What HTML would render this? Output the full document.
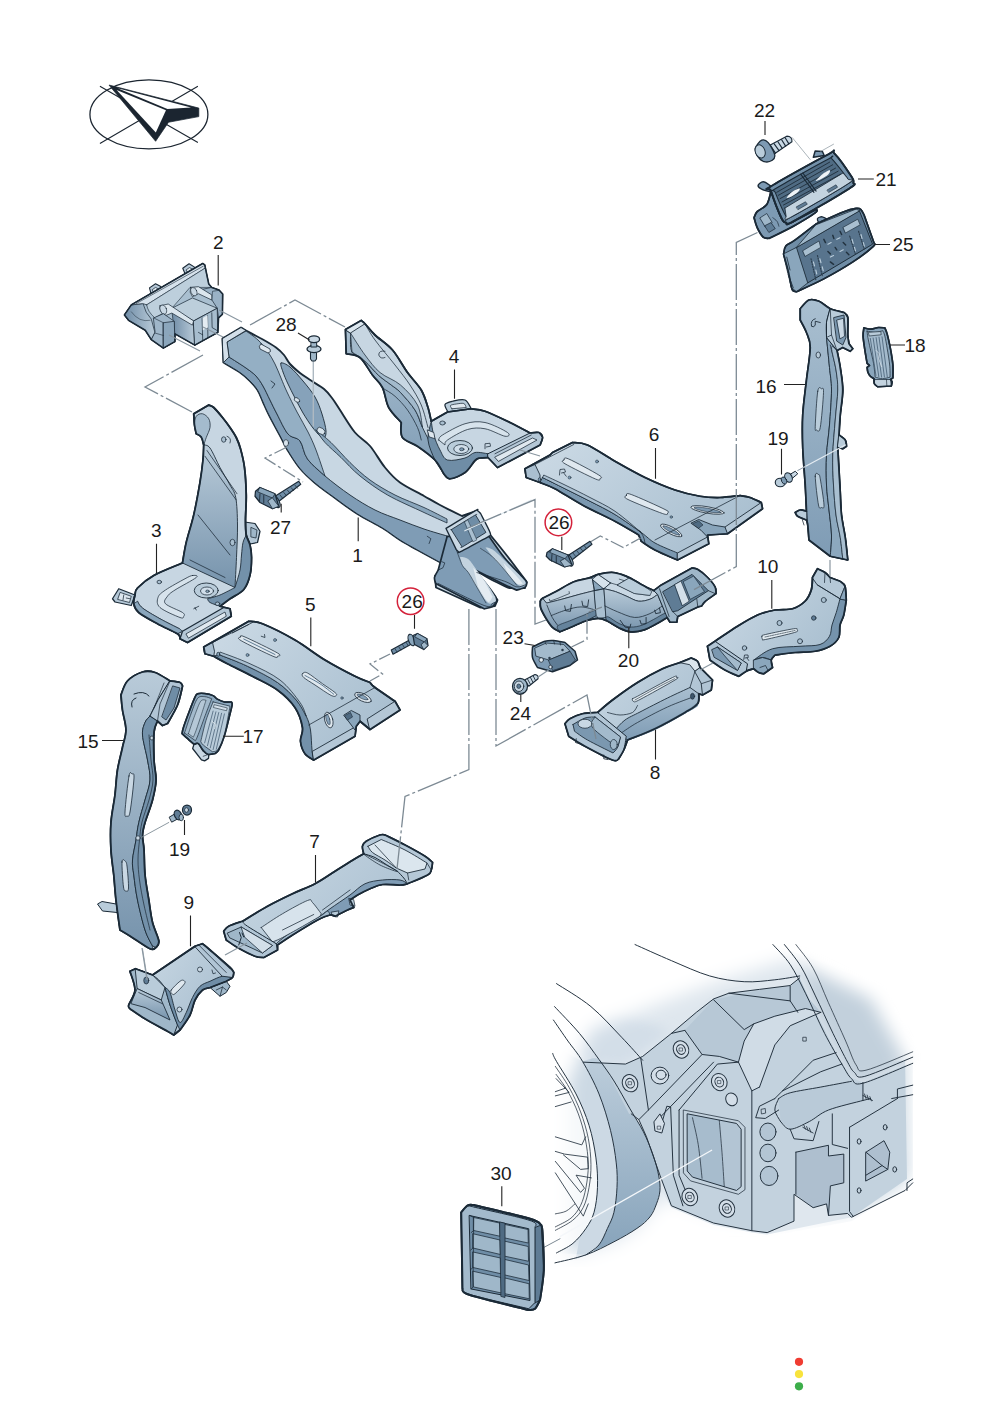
<!DOCTYPE html>
<html><head><meta charset="utf-8"><title>Parts diagram</title>
<style>
html,body{margin:0;padding:0;background:#fff;}
svg{display:block}
text{font-family:"Liberation Sans",sans-serif;font-size:17.5px;fill:#1a1a1a;text-anchor:middle}
.o{stroke:#1b2a37;stroke-linejoin:round;stroke-linecap:round}
.n{fill:none}
.dd{stroke:#7d8a94;stroke-width:1.3;fill:none;stroke-dasharray:36 3 3 3}
.ld{stroke:#222;stroke-width:1.1;fill:none}
</style></head><body>
<svg width="992" height="1403" viewBox="0 0 992 1403">
<defs>
<linearGradient id="gA" x1="0" y1="0" x2="1" y2="1"><stop offset="0" stop-color="#c9d8e4"/><stop offset="1" stop-color="#7f9cb4"/></linearGradient>
<linearGradient id="gB" x1="0" y1="0" x2="1" y2="0"><stop offset="0" stop-color="#6f8ca6"/><stop offset="1" stop-color="#b9cbd9"/></linearGradient>
<linearGradient id="gC" x1="0" y1="0" x2="0" y2="1"><stop offset="0" stop-color="#b9cbd9"/><stop offset="1" stop-color="#7693ac"/></linearGradient>
<linearGradient id="gD" x1="0" y1="0" x2="1" y2="0"><stop offset="0" stop-color="#c5d5e1"/><stop offset="1" stop-color="#7893ac"/></linearGradient>
<linearGradient id="gE" x1="0" y1="1" x2="1" y2="0"><stop offset="0" stop-color="#7390a9"/><stop offset="1" stop-color="#c4d4e0"/></linearGradient>
<linearGradient id="gT" x1="0" y1="0" x2="1" y2="0.6"><stop offset="0" stop-color="#cddbe6"/><stop offset="1" stop-color="#a9bfd0"/></linearGradient>
<linearGradient id="gM" x1="0" y1="0" x2="0" y2="1"><stop offset="0" stop-color="#a9bfd0"/><stop offset="1" stop-color="#7f9cb5"/></linearGradient>
</defs>
<rect width="992" height="1403" fill="#ffffff"/>
<!-- 00_compass.svg -->
<g transform="translate(60 60) scale(0.18145)">
<ellipse cx="490" cy="300" rx="325" ry="190" fill="#fff" stroke="#1b2530" stroke-width="7"/>
<path d="M220 145 L760 455 M220 460 L760 145" stroke="#1b2530" stroke-width="6" fill="none"/>
<path d="M270 138 L765 265 L765 312 L598 343 L527 448 Z" fill="#1b2530" stroke="#1b2530" stroke-width="4" stroke-linejoin="miter"/>
<path d="M318 156 L722 262 L592 270 Z" fill="#fff"/>
<path d="M312 166 L584 277 L528 400 Z" fill="#fff"/>
</g>
<!-- 10_inset.svg -->
<defs>
<filter id="bl" x="-20%" y="-20%" width="140%" height="140%"><feGaussianBlur stdDeviation="14"/></filter>
<filter id="bl2" x="-20%" y="-20%" width="140%" height="140%"><feGaussianBlur stdDeviation="22"/></filter>
<linearGradient id="gArch" x1="0" y1="0" x2="0" y2="1"><stop offset="0" stop-color="#bccddb"/><stop offset="1" stop-color="#84a1b9"/></linearGradient>
<mask id="insM" maskUnits="userSpaceOnUse" x="-40" y="-40" width="1100" height="960">
<rect x="-40" y="-40" width="1100" height="960" fill="#000"/>
<path d="M60 400 L120 260 L300 190 L460 130 L640 75 L850 180 L940 340 L945 650 L800 745 L600 760 L440 740 L330 700 L290 720 L240 780 L183 815 L104 840 L60 850 Z" fill="#fff" filter="url(#bl2)"/>
<path d="M120 330 L330 250 L450 160 L670 110 L800 360 L940 340 L945 650 L800 750 L580 795 L540 790 L440 770 L330 725 L310 690 L300 681 L291 715 L274 749 L240 779 L180 814 L107 848 L80 860 L110 700 L100 500 Z" fill="#fff"/>
</mask>
</defs>
<g transform="translate(545 930) scale(0.38306)" stroke="#24323f" stroke-width="3" stroke-linejoin="round" stroke-linecap="round">
<g mask="url(#insM)">
<!-- soft background -->
<path d="M20 180 L235 40 L600 38 L890 150 L960 330 L960 660 L800 760 L580 800 L300 800 L280 880 L20 880 Z" fill="#dfe7ee" stroke="none"/>
<path d="M30 250 L150 200 L330 265 L210 352 L100 346 Z" fill="#d3dee8" stroke="none" filter="url(#bl)"/>
<path d="M660 50 L900 160 L975 330 L830 398 L790 380 L700 190 Z" fill="#c2d0dc" stroke="none" filter="url(#bl)"/>
<!-- wheel -->
<path d="M20.0 320.0C21.7 323.8 19.8 325.0 30.0 343.0C40.2 361.0 66.8 400.2 81.0 428.0C95.2 455.8 106.3 482.2 115.0 510.0C123.7 537.8 129.3 568.0 133.0 595.0C136.7 622.0 137.8 648.3 137.0 672.0C136.2 695.7 133.0 719.2 128.0 737.0C123.0 754.8 116.2 765.5 107.0 779.0C97.8 792.5 85.8 807.3 73.0 818.0C60.2 828.7 37.2 838.8 30.0 843.0L20.0 850.0L20.0 320.0Z" fill="#f5f8fa" stroke="none"/>
<path d="M20.0 300.0L30.0 343.0C38.5 357.2 66.8 400.2 81.0 428.0C95.2 455.8 106.3 482.2 115.0 510.0C123.7 537.8 129.3 568.0 133.0 595.0C136.7 622.0 137.8 648.3 137.0 672.0C136.2 695.7 133.0 719.2 128.0 737.0C123.0 754.8 116.2 765.5 107.0 779.0C97.8 792.5 85.8 807.3 73.0 818.0C60.2 828.7 37.2 838.8 30.0 843.0L107.0 848.0C107.0 848.0 101.3 852.3 107.0 848.0C112.7 843.7 131.7 833.5 141.0 822.0C150.3 810.5 156.5 793.2 163.0 779.0C169.5 764.8 175.8 754.8 180.0 737.0C184.2 719.2 187.0 693.5 188.0 672.0C189.0 650.5 188.8 632.8 186.0 608.0C183.2 583.2 178.5 553.0 171.0 523.0C163.5 493.0 153.2 458.0 141.0 428.0C128.8 398.0 105.2 357.2 98.0 343.0L20.0 300.0Z" fill="#ccd9e4" stroke="none"/>
<path d="M98.0 343.0C105.2 342.2 127.3 329.5 141.0 338.0C154.7 346.5 166.5 372.5 180.0 394.0C193.5 415.5 209.2 444.8 222.0 467.0C234.8 489.2 247.0 507.0 257.0 527.0C267.0 547.0 275.3 567.8 282.0 587.0C288.7 606.2 294.0 626.3 297.0 642.0C300.0 657.7 301.0 668.8 300.0 681.0C299.0 693.2 295.3 703.7 291.0 715.0C286.7 726.3 282.5 738.3 274.0 749.0C265.5 759.7 255.7 768.2 240.0 779.0C224.3 789.8 202.2 802.5 180.0 814.0C157.8 825.5 132.7 838.8 107.0 848.0C81.3 857.2 39.5 865.5 26.0 869.0C39.5 865.5 87.8 855.8 107.0 848.0C126.2 840.2 131.7 833.5 141.0 822.0C150.3 810.5 156.5 793.2 163.0 779.0C169.5 764.8 175.8 754.8 180.0 737.0C184.2 719.2 187.0 693.5 188.0 672.0C189.0 650.5 188.8 632.8 186.0 608.0C183.2 583.2 178.5 553.0 171.0 523.0C163.5 493.0 153.2 458.0 141.0 428.0C128.8 398.0 105.2 357.2 98.0 343.0L98.0 343.0Z" fill="url(#gArch)" stroke="none"/>
<!-- central structure -->
<path d="M100 345 L210 350 L255 330 L330 270 L395 215 L440 180 L480 165 L560 155 L640 145 L665 125 L690 180 L730 260 L770 340 L800 385 L830 398 L960 345 L960 660 L940 680 L800 750 L790 740 L740 745 L735 715 L700 725 L650 690 L650 760 L580 790 L540 785 L440 765 L330 720 L300 640 L265 540 L245 495 L219 479 L150 346 Z" fill="#c3d2de" stroke="none"/>
<!-- upper cavity darker -->
<path d="M365 262 L440 182 L560 157 L640 147 L665 127 L690 180 L720 215 L640 250 L600 300 L560 410 L540 420 L505 345 L455 330 L410 325 Z" fill="#b7c8d6" stroke="none"/>
<path d="M505 345 L520 290 L545 245 L600 225 L680 205 L720 215 L640 250 L600 300 L560 410 L540 420 Z" fill="#d0dce6" stroke="none"/>
<!-- rect opening -->
<path d="M372 480 L500 505 L512 520 L512 670 L500 680 L385 645 L372 630 Z" fill="#b3c5d4" stroke="none"/>
<path d="M372 480 L455 497 L468 670 L385 645 L372 630 Z" fill="#a7bccd" stroke="none"/>
<!-- right recess -->
<path d="M655 580 L740 562 L740 590 L780 585 L780 660 L745 668 L740 745 L735 715 L700 725 L655 690 Z" fill="#aebfcf" stroke="none"/>
<path d="M838 580 L885 550 L900 580 L895 625 L838 655 Z" fill="#aebfcf" stroke="none"/>
<!-- rounded bars -->
<path d="M610 440 L640 425 L800 395 L830 400 L830 445 L740 470 L690 500 L640 520 L615 500 Z" fill="#b9cad8" stroke="none"/>
</g>
<!-- lines -->
<g fill="none" stroke-width="2.6">
<path d="M235.0 38.0C250.8 45.0 297.5 66.3 330.0 80.0C362.5 93.7 398.3 110.8 430.0 120.0C461.7 129.2 491.7 133.3 520.0 135.0C548.3 136.7 575.8 132.5 600.0 130.0C624.2 127.5 654.2 121.7 665.0 120.0"/>
<path d="M595.0 38.0C602.5 46.7 625.8 68.8 640.0 90.0C654.2 111.2 665.0 135.0 680.0 165.0C695.0 195.0 714.2 239.2 730.0 270.0C745.8 300.8 763.3 330.3 775.0 350.0C786.7 369.7 790.8 379.7 800.0 388.0C809.2 396.3 803.3 406.7 830.0 400.0C856.7 393.3 938.3 356.7 960.0 348.0"/>
<path d="M625.0 38.0C632.2 47.5 654.7 73.0 668.0 95.0C681.3 117.0 691.0 140.8 705.0 170.0C719.0 199.2 737.8 240.8 752.0 270.0C766.2 299.2 780.7 328.0 790.0 345.0C799.3 362.0 800.5 365.8 808.0 372.0C815.5 378.2 809.7 388.7 835.0 382.0C860.3 375.3 939.2 340.3 960.0 332.0"/>
<path d="M655.0 38.0C662.5 48.3 685.8 74.7 700.0 100.0C714.2 125.3 725.8 158.3 740.0 190.0C754.2 221.7 773.0 263.0 785.0 290.0C797.0 317.0 803.2 339.3 812.0 352.0C820.8 364.7 813.3 371.7 838.0 366.0C862.7 360.3 939.7 326.0 960.0 318.0" stroke-width="2"/>
<path d="M30.0 140.0C45.0 150.0 91.7 176.7 120.0 200.0C148.3 223.3 177.5 256.7 200.0 280.0C222.5 303.3 245.8 330.0 255.0 340.0"/>
<path d="M25.0 200.0C35.8 211.7 70.7 247.0 90.0 270.0C109.3 293.0 126.0 317.3 141.0 338.0C156.0 358.7 166.5 372.5 180.0 394.0C193.5 415.5 209.2 444.8 222.0 467.0C234.8 489.2 247.0 507.0 257.0 527.0C267.0 547.0 275.3 567.8 282.0 587.0C288.7 606.2 294.0 626.3 297.0 642.0C300.0 657.7 301.0 668.8 300.0 681.0C299.0 693.2 295.3 703.7 291.0 715.0C286.7 726.3 282.5 738.3 274.0 749.0C265.5 759.7 255.7 768.2 240.0 779.0C224.3 789.8 202.2 802.5 180.0 814.0C157.8 825.5 132.7 838.8 107.0 848.0C81.3 857.2 39.5 865.5 26.0 869.0"/>
<path d="M22.0 235.0C28.3 244.2 47.3 272.0 60.0 290.0C72.7 308.0 84.5 320.0 98.0 343.0C111.5 366.0 128.8 398.0 141.0 428.0C153.2 458.0 163.5 493.0 171.0 523.0C178.5 553.0 183.2 583.2 186.0 608.0C188.8 632.8 189.0 650.5 188.0 672.0C187.0 693.5 184.2 719.2 180.0 737.0C175.8 754.8 169.5 764.8 163.0 779.0C156.5 793.2 150.3 810.5 141.0 822.0C131.7 833.5 112.7 843.7 107.0 848.0"/>
<path d="M20.0 322.0C21.7 325.5 19.8 325.3 30.0 343.0C40.2 360.7 66.8 400.2 81.0 428.0C95.2 455.8 106.3 482.2 115.0 510.0C123.7 537.8 129.3 568.0 133.0 595.0C136.7 622.0 137.8 648.3 137.0 672.0C136.2 695.7 133.0 719.2 128.0 737.0C123.0 754.8 116.2 765.5 107.0 779.0C97.8 792.5 85.8 807.3 73.0 818.0C60.2 828.7 37.2 838.8 30.0 843.0"/>
<!-- wheel spokes -->
<path d="M27.0 356.0C33.0 365.2 52.0 391.2 63.0 411.0C74.0 430.8 84.7 452.8 93.0 475.0C101.3 497.2 108.5 521.2 113.0 544.0C117.5 566.8 119.7 590.7 120.0 612.0C120.3 633.3 118.3 653.3 115.0 672.0C111.7 690.7 107.2 709.7 100.0 724.0C92.8 738.3 84.2 748.0 72.0 758.0C59.8 768.0 34.5 779.7 27.0 784.0" stroke-width="2"/>
<path d="M29.0 377.0C34.0 384.2 49.3 402.8 59.0 420.0C68.7 437.2 79.3 459.3 87.0 480.0C94.7 500.7 100.7 522.0 105.0 544.0C109.3 566.0 112.7 590.7 113.0 612.0C113.3 633.3 110.3 654.2 107.0 672.0C103.7 689.8 99.5 705.7 93.0 719.0C86.5 732.3 79.0 742.7 68.0 752.0C57.0 761.3 33.8 771.2 27.0 775.0" stroke-width="2"/>
<path d="M27.0 741.0C31.7 739.8 46.5 738.3 55.0 734.0C63.5 729.7 74.2 718.2 78.0 715.0" stroke-width="2"/>
<path d="M29 388 L53 413 L27 422 M27 433 L63 424 L51 411 M27 461 L68 449 M27 540 L96 561 L106 540 M27 578 L51 585 L111 593 L113 623 L93 625 L48 587 M27 604 L93 685 L103 674 L81 640 L121 647 M27 634 L100 747 L113 715" stroke-width="2.2"/>
<!-- structure edges -->
<path d="M100 345 L210 350 L255 330 L330 270 L395 215 L440 180 L480 165 L560 155 L640 145 L665 125"/>
<path d="M365 262 L410 325 L455 330 L505 345 L540 420 L540 785"/>
<path d="M410 325 L270 470 L245 495 L225 480 M250 335 L270 470 M330 270 L365 262 M290 500 L440 345 M300 520 L318 460 L328 462 L335 640 L360 720"/>
<path d="M245 495 L265 540 L300 640 L330 720 L440 765 L540 785 L580 790 L650 760 L650 690 L700 725 L735 715 L740 745 L790 740 L800 750 L940 680 L960 660"/>
<path d="M350 470 L350 640 L375 700 M350 470 L450 350 L505 345"/>
<path d="M372 480 L500 505 L512 520 L512 670 L500 680 L385 645 L372 630 Z"/>
<path d="M362 470 L505 498 L522 515 L522 678 L505 690 L380 655 L362 635 Z" stroke-width="2"/>
<path d="M455.0 497.0C456.2 510.8 459.8 551.2 462.0 580.0C464.2 608.8 467.0 655.0 468.0 670.0" stroke-width="2"/>
<path d="M385.0 490.0C387.5 501.7 395.8 533.7 400.0 560.0C404.2 586.3 408.3 633.3 410.0 648.0" stroke-width="2"/>
<path d="M505 345 L520 290 L545 245 L600 225 L680 205 L720 215"/>
<path d="M440 182 L520 260 L545 245 M480 165 L640 185 L660 215 M640 185 L640 147"/>
<path d="M560 410 L600 300 L640 250 L720 215 M540 420 L560 410 M600 440 L560 460 L550 490 L575 492 L610 470"/>
<path d="M610.0 440.0C615.0 437.5 621.7 430.0 640.0 425.0C658.3 420.0 693.3 415.0 720.0 410.0C746.7 405.0 786.7 397.5 800.0 395.0"/>
<path d="M615.0 500.0C619.2 503.3 627.5 520.0 640.0 520.0C652.5 520.0 673.3 508.3 690.0 500.0C706.7 491.7 716.7 479.2 740.0 470.0C763.3 460.8 815.0 449.2 830.0 445.0"/>
<path d="M610.0 440.0C608.3 445.0 599.2 460.0 600.0 470.0C600.8 480.0 612.5 495.0 615.0 500.0"/>
<path d="M600 440 L640 400 L700 340 L760 320 M620 420 L720 370 L775 350"/>
<path d="M655 580 L740 562 L740 590 L780 585 L780 660 L745 668 L740 745 M655 580 L655 690"/>
<path d="M640 520 L650 545 L700 550 L715 500 M750 480 L750 560 L790 570"/>
<path d="M795 515 L920 440 M795 515 L795 735 L805 748 M830 398 L830 445 L850 440 M920 440 L920 415 L960 405 M905 440 L960 430"/>
<path d="M838 580 L885 550 L900 580 L895 625 L838 655 Z M838 580 L880 615 L895 625 M880 615 L838 640"/>
<path d="M960 650 L945 660 L945 680"/>
<ellipse cx="820" cy="552" rx="5" ry="7"/><ellipse cx="888" cy="515" rx="5" ry="7"/><ellipse cx="913" cy="625" rx="5" ry="7"/><ellipse cx="820" cy="680" rx="5" ry="7"/>
<path d="M673 515 L700 530 M676 510 L680 520 M683 513 L687 524 M690 517 L694 528 M830 432 L855 445 M834 428 L838 440 M841 431 L845 443 M848 435 L852 446" stroke-width="2.2"/>
<path d="M674 280 L682 280 L682 290 L674 290 Z M565 468 L575 466 L576 478 L566 480 Z" stroke-width="2"/>
<!-- bolts -->
<g fill="#d3dee8">
<ellipse cx="222" cy="400" rx="20" ry="23" transform="rotate(-25 222 400)"/><ellipse cx="222" cy="400" rx="11" ry="13" transform="rotate(-25 222 400)"/>
<ellipse cx="355" cy="312" rx="20" ry="23" transform="rotate(-25 355 312)"/><ellipse cx="355" cy="312" rx="11" ry="13" transform="rotate(-25 355 312)"/>
<ellipse cx="300" cy="380" rx="23" ry="22"/><ellipse cx="303" cy="378" rx="13" ry="12"/>
<ellipse cx="455" cy="397" rx="20" ry="23" transform="rotate(-25 455 397)"/><ellipse cx="455" cy="397" rx="11" ry="13" transform="rotate(-25 455 397)"/>
<ellipse cx="487" cy="442" rx="15" ry="17" transform="rotate(-25 487 442)"/>
<ellipse cx="378" cy="697" rx="20" ry="23" transform="rotate(-25 378 697)"/><ellipse cx="378" cy="697" rx="11" ry="13" transform="rotate(-25 378 697)"/>
<ellipse cx="475" cy="727" rx="20" ry="23" transform="rotate(-25 475 727)"/><ellipse cx="475" cy="727" rx="11" ry="13" transform="rotate(-25 475 727)"/>
<path d="M285 500 L300 480 L312 505 L305 530 L288 525 Z"/>
</g>
<g fill="#b3c5d4"><ellipse cx="582" cy="527" rx="21" ry="23"/><ellipse cx="582" cy="582" rx="21" ry="23"/><ellipse cx="585" cy="642" rx="23" ry="25"/></g>
<rect x="218" y="396" width="8" height="8" stroke-width="1.6"/><rect x="351" y="308" width="8" height="8" stroke-width="1.6"/><rect x="451" y="393" width="8" height="8" stroke-width="1.6"/><rect x="374" y="693" width="8" height="8" stroke-width="1.6"/><rect x="471" y="723" width="8" height="8" stroke-width="1.6"/><rect x="294" y="512" width="8" height="8" stroke-width="1.6"/>
</g>
<!-- guide line to part 30 -->
<path d="M40 800 L435 575" stroke="#f4f7fa" stroke-width="3.5" fill="none"/>
</g>
<!-- 20_part2.svg -->
<g transform="translate(115 255) scale(0.12097)" class="o" stroke-width="9">
<!-- tabs -->
<path d="M300 330 L285 272 L335 238 L375 258 L390 300 Z" fill="#b7c9d8"/>
<path d="M310 285 L335 268 L358 280 L350 300 L320 305 Z" fill="#dfe8ef" stroke-width="6"/>
<path d="M585 170 L560 110 L612 72 L655 98 L668 140 Z" fill="#b7c9d8"/>
<path d="M590 122 L615 104 L640 116 L634 138 L600 142 Z" fill="#dfe8ef" stroke-width="6"/>
<!-- silhouette -->
<path d="M78 495 L135 412 L725 70 L742 82 L775 240 L800 268 L860 290 L890 322 L888 490 L856 520 L850 640 L660 745 L496 652 L495 716 L400 770 L300 700 L250 622 L112 540 Z" fill="#a9bfd0"/>
<!-- left cone -->
<path d="M78 495 L135 412 L232 402 Q250 480 300 530 L330 640 L300 700 L250 622 L112 540 Z" fill="url(#gB)" stroke-width="6"/>
<path d="M135 470 Q200 560 290 540" class="n" stroke-width="4"/>
<!-- top flange -->
<path d="M135 412 L725 70 L742 82 L746 108 L262 412 L232 402 Z" fill="#d6e2ec" stroke-width="6"/>
<path d="M175 402 L730 92" class="n" stroke-width="5"/>
<!-- back plate -->
<path d="M262 412 L746 108 L775 240 L800 268 L620 268 L470 440 L330 520 Q270 470 262 412 Z" fill="#bdcfdc" stroke-width="5"/>
<!-- right block -->
<path d="M690 290 L800 268 L860 290 L890 322 L888 490 L856 520 L845 440 L800 370 Z" fill="#9ab2c6" stroke-width="6"/>
<path d="M800 370 L806 300 L860 292" class="n" stroke-width="5"/>
<!-- right cylinder -->
<path d="M625 268 L690 262 L800 330 L800 372 L690 320 L640 345 Q610 310 625 268 Z" fill="#dbe6ee" stroke-width="6"/>
<ellipse cx="652" cy="303" rx="24" ry="36" fill="#c9d8e4" stroke-width="5" transform="rotate(-20 652 303)"/>
<!-- box -->
<path d="M470 440 L640 355 L845 440 L650 545 Z" fill="#bccedb" stroke-width="6"/>
<path d="M470 440 L650 545 L660 745 L496 652 Z" fill="url(#gB)" stroke-width="6"/>
<path d="M650 545 L845 440 L850 640 L660 745 Z" fill="#a7bdce" stroke-width="7"/>
<path d="M720 520 L725 705 M765 498 L768 682 M800 478 L803 600 L845 625 M690 640 L725 660" class="n" stroke-width="6"/>
<path d="M725 520 L765 498 L768 600 L726 622 Z" fill="#e4ecf2" stroke="none"/>
<!-- left cylinder + bar -->
<path d="M372 420 L440 405 L650 545 L640 580 L470 480 L420 500 Q360 470 372 420 Z" fill="#dbe6ee" stroke-width="6"/>
<ellipse cx="400" cy="452" rx="26" ry="40" fill="#c9d8e4" stroke-width="5" transform="rotate(-20 400 452)"/>
<!-- left foot -->
<path d="M320 520 L400 485 L490 548 L495 716 L400 770 L300 700 L330 640 Z" fill="#9fb6c9" stroke-width="6"/>
<path d="M400 560 L490 548 L495 716 L400 770 Z" fill="#8ba6bc" stroke-width="6"/>
<path d="M320 520 L400 560 L400 770 M330 645 L400 665" class="n" stroke-width="5"/>
<path d="M78 495 L135 412 L725 70 L742 82 L775 240 L800 268 L860 290 L890 322 L888 490 L856 520 L850 640 L660 745 L496 652 L495 716 L400 770 L300 700 L250 622 L112 540 Z" fill="none" stroke-width="13"/>
</g>
<!-- guide lines from part 2 -->
<path d="M219 310 L242 322 M203 327 L229 340 M169 335 L200 351" stroke="#8a97a1" stroke-width="1.2" fill="none"/>
<!-- 30_part1.svg -->
<g class="o" stroke-width="1.1">
<!-- silhouette -->
<path d="M222.5 338.5L241.0 327.5C241.8 328.0 242.5 328.6 246.0 330.5C249.5 332.4 257.0 336.2 262.0 339.0C267.0 341.8 272.3 344.8 276.0 347.5C279.7 350.2 281.7 352.2 284.0 355.0C286.3 357.8 287.3 361.0 290.0 364.0C292.7 367.0 296.5 370.2 300.0 373.0C303.5 375.8 307.0 377.8 311.0 380.5C315.0 383.2 320.5 386.1 324.0 389.0C327.5 391.9 329.3 394.5 332.0 398.0C334.7 401.5 336.2 404.2 340.0 410.0C343.8 415.8 350.0 426.5 355.0 432.5C360.0 438.5 365.0 440.2 370.0 446.0C375.0 451.8 380.0 461.4 385.0 467.5C390.0 473.6 393.5 477.8 400.0 482.5C406.5 487.2 417.3 492.2 424.0 496.0C430.7 499.8 433.7 501.7 440.0 505.0C446.3 508.3 458.3 514.2 462.0 516.0L475.0 511.5L489.5 534.0C492.6 537.8 501.9 549.2 508.0 557.0C514.1 564.8 523.0 577.0 526.0 581.0L525.0 588.0L509.0 588.0C506.2 586.7 497.7 583.0 492.0 580.0C486.3 577.0 477.8 571.7 475.0 570.0L497.5 600.0L495.0 606.0L480.0 607.5L436.0 587.5L435.0 576.0L445.0 565.0C440.4 562.5 425.0 554.2 417.5 550.0C410.0 545.8 405.8 543.7 400.0 540.0C394.2 536.3 389.6 532.3 382.5 528.0C375.4 523.7 365.4 519.0 357.5 514.0C349.6 509.0 342.1 503.2 335.0 498.0C327.9 492.8 320.8 487.9 315.0 483.0C309.2 478.1 304.6 474.0 300.0 468.5C295.4 463.0 290.7 455.2 287.5 450.0C284.3 444.8 284.1 443.3 281.0 437.5C277.9 431.7 272.0 420.9 269.0 415.0C266.0 409.1 264.9 406.2 263.0 402.0C261.1 397.8 259.7 393.5 257.5 390.0C255.3 386.5 252.9 383.9 250.0 381.0C247.1 378.1 244.4 375.6 240.0 372.5C235.6 369.4 226.2 364.2 223.5 362.5L222.5 338.5Z" fill="#c8d7e3" stroke-width="1.9"/>
<!-- side face dark band -->
<path d="M222.5 338.5L227.0 342.0L229.0 357.0C231.8 358.8 241.5 364.8 246.0 368.0C250.5 371.2 253.2 373.0 256.0 376.0C258.8 379.0 260.7 382.0 263.0 386.0C265.3 390.0 267.7 395.3 270.0 400.0C272.3 404.7 274.0 408.3 277.0 414.0C280.0 419.7 284.2 429.5 288.0 434.0C291.8 438.5 296.8 436.8 300.0 441.0C303.2 445.2 303.3 453.2 307.5 459.0C311.7 464.8 317.9 470.0 325.0 476.0C332.1 482.0 341.7 489.3 350.0 495.0C358.3 500.7 366.7 505.8 375.0 510.0C383.3 514.2 391.8 516.8 400.0 520.0C408.2 523.2 416.2 526.3 424.0 529.0C431.8 531.7 443.2 534.8 447.0 536.0L445.0 565.0C440.4 562.5 425.0 554.2 417.5 550.0C410.0 545.8 405.8 543.7 400.0 540.0C394.2 536.3 389.6 532.3 382.5 528.0C375.4 523.7 365.4 519.0 357.5 514.0C349.6 509.0 342.1 503.2 335.0 498.0C327.9 492.8 320.8 487.9 315.0 483.0C309.2 478.1 304.6 474.0 300.0 468.5C295.4 463.0 290.7 455.2 287.5 450.0C284.3 444.8 284.1 443.3 281.0 437.5C277.9 431.7 272.0 420.9 269.0 415.0C266.0 409.1 264.9 406.2 263.0 402.0C261.1 397.8 259.7 393.5 257.5 390.0C255.3 386.5 252.9 383.9 250.0 381.0C247.1 378.1 244.4 375.6 240.0 372.5C235.6 369.4 226.2 364.2 223.5 362.5L222.5 338.5Z" fill="#7f9cb5" stroke-width="0.9"/>
<!-- mid band -->
<path d="M227.0 342.0L246.0 331.0C248.0 332.5 254.3 336.5 258.0 340.0C261.7 343.5 265.2 348.0 268.0 352.0C270.8 356.0 272.8 359.7 275.0 364.0C277.2 368.3 279.0 373.3 281.0 378.0C283.0 382.7 284.3 386.3 287.0 392.0C289.7 397.7 293.5 405.3 297.0 412.0C300.5 418.7 304.8 425.7 308.0 432.0C311.2 438.3 313.2 442.7 316.0 450.0C318.8 457.3 323.5 471.7 325.0 476.0C322.1 473.2 311.7 464.8 307.5 459.0C303.3 453.2 303.2 445.2 300.0 441.0C296.8 436.8 291.8 438.5 288.0 434.0C284.2 429.5 280.0 419.7 277.0 414.0C274.0 408.3 272.3 404.7 270.0 400.0C267.7 395.3 265.3 390.0 263.0 386.0C260.7 382.0 258.8 379.0 256.0 376.0C253.2 373.0 250.5 371.2 246.0 368.0C241.5 364.8 231.8 358.8 229.0 357.0L227.0 342.0Z" fill="#94afc4" stroke-width="0.8"/>
<!-- recess -->
<path d="M281.0 363.0C282.2 362.2 286.3 364.0 290.0 367.0C293.7 370.0 298.8 376.0 303.0 381.0C307.2 386.0 311.8 391.5 315.0 397.0C318.2 402.5 320.2 408.3 322.0 414.0C323.8 419.7 325.8 427.0 326.0 431.0C326.2 435.0 325.2 438.5 323.0 438.0C320.8 437.5 316.3 432.2 313.0 428.0C309.7 423.8 306.0 418.0 303.0 413.0C300.0 408.0 297.5 402.8 295.0 398.0C292.5 393.2 290.0 388.3 288.0 384.0C286.0 379.7 284.2 375.5 283.0 372.0C281.8 368.5 279.8 363.8 281.0 363.0Z" fill="#86a2ba" stroke-width="0.9"/>
<path d="M316.0 430.0C318.5 432.1 325.3 437.1 331.0 442.5C336.7 447.9 343.5 456.2 350.0 462.5C356.5 468.8 362.5 474.6 370.0 480.0C377.5 485.4 386.0 490.4 395.0 495.0C404.0 499.6 415.3 503.5 424.0 507.5C432.7 511.5 443.2 517.1 447.0 519.0L447.0 523.0C443.2 521.2 433.9 517.2 424.0 512.5C414.1 507.8 398.2 501.1 387.5 495.0C376.8 488.9 367.8 482.2 360.0 476.0C352.2 469.8 346.8 463.1 341.0 457.5C335.2 451.9 329.2 447.1 325.0 442.5C320.8 437.9 317.5 432.1 316.0 430.0Z" fill="#8aa6bc" stroke-width="0.8"/>
<ellipse cx="321" cy="431" rx="4.5" ry="3" fill="#d7e3ec" stroke-width="0.7" transform="rotate(35 321 431)"/>
<ellipse cx="297" cy="400" rx="3" ry="2" fill="#d7e3ec" stroke-width="0.7" transform="rotate(35 297 400)"/>
<!-- slot near top -->
<path d="M261 344 L270 349 Q272 352 268 353 L260 349 Q258 346 261 344 Z" fill="#dfe8ef" stroke-width="0.8"/>
<!-- end flange -->
<path d="M222.5 338.5 L241 327.5 L246 330.5 L227 342 L229 357 L223.5 362.5 Z" fill="#d3dfe9" stroke-width="0.9"/>
<path d="M271 381 L275 384 L272 388" class="n" stroke-width="0.8"/>
<!-- nub for 27 -->
<ellipse cx="286" cy="443" rx="2.6" ry="3.4" fill="#d7e3ec" stroke-width="0.7"/>
<!-- prong area -->
<g transform="translate(420 500) scale(0.12097)" stroke-width="8">
<path d="M225.0 300.0L150.0 580.0C145.0 590.0 123.3 621.7 120.0 640.0C116.7 658.3 128.3 681.7 130.0 690.0L530.0 900.0C541.7 896.7 582.5 890.0 600.0 880.0C617.5 870.0 629.2 846.7 635.0 840.0C633.3 833.3 640.0 825.0 625.0 800.0C610.0 775.0 575.8 728.3 545.0 690.0C514.2 651.7 457.5 590.0 440.0 570.0C483.3 591.7 640.0 670.8 700.0 700.0C760.0 729.2 783.3 737.5 800.0 745.0C811.7 740.8 855.8 730.8 870.0 720.0C884.2 709.2 882.5 686.7 885.0 680.0C880.8 675.0 890.8 683.3 860.0 650.0C829.2 616.7 748.3 538.3 700.0 480.0C651.7 421.7 591.7 330.0 570.0 300.0L225.0 300.0Z" fill="#7f9cb5" stroke-width="14"/>
<path d="M330.0 470.0C341.7 473.3 376.7 471.7 400.0 490.0C423.3 508.3 443.3 545.0 470.0 580.0C496.7 615.0 534.7 663.3 560.0 700.0C585.3 736.7 611.7 783.3 622.0 800.0L628.0 838.0C616.7 840.0 586.3 869.7 560.0 850.0C533.7 830.3 496.7 761.7 470.0 720.0C443.3 678.3 420.0 630.0 400.0 600.0C380.0 570.0 358.3 550.0 350.0 540.0L330.0 470.0Z" fill="#c3d3df" stroke="none"/>
<path d="M440.0 560.0C453.3 575.0 493.3 610.0 520.0 650.0C546.7 690.0 586.7 775.0 600.0 800.0C593.3 806.7 580.0 853.3 560.0 840.0C540.0 826.7 493.3 740.0 480.0 720.0L440.0 560.0Z" fill="#e4ecf2" stroke="none"/>
<path d="M540.0 390.0C550.0 393.3 573.3 391.7 600.0 410.0C626.7 428.3 666.7 468.3 700.0 500.0C733.3 531.7 772.0 571.3 800.0 600.0C828.0 628.7 856.7 660.0 868.0 672.0L870.0 705.0C860.0 704.2 838.3 720.8 810.0 700.0C781.7 679.2 735.0 618.3 700.0 580.0C665.0 541.7 616.7 488.3 600.0 470.0L540.0 390.0Z" fill="#c3d3df" stroke="none"/>
<path d="M690.0 520.0C705.0 535.0 753.3 581.7 780.0 610.0C806.7 638.3 838.3 676.7 850.0 690.0C841.7 690.0 821.7 705.0 800.0 690.0C778.3 675.0 733.3 615.0 720.0 600.0L690.0 520.0Z" fill="#e4ecf2" stroke="none"/>
<path d="M150.0 690.0C213.3 720.3 455.0 844.5 530.0 872.0C605.0 899.5 583.0 860.7 600.0 855.0C617.0 849.3 626.7 840.8 632.0 838.0" class="n" stroke-width="6"/>
<path d="M470.0 600.0C508.3 612.0 645.0 652.3 700.0 672.0C755.0 691.7 771.3 713.3 800.0 718.0C828.7 722.7 860.0 703.0 872.0 700.0" class="n" stroke-width="6"/>
<path d="M300.0 410.0C308.3 431.7 333.3 508.3 350.0 540.0C366.7 571.7 380.0 570.0 400.0 600.0C420.0 630.0 445.8 678.3 470.0 720.0C494.2 761.7 532.5 828.3 545.0 850.0" class="n" stroke-width="5"/>
<path d="M500.0 400.0C516.7 411.7 566.7 440.0 600.0 470.0C633.3 500.0 666.7 540.8 700.0 580.0C733.3 619.2 783.3 684.2 800.0 705.0" class="n" stroke-width="5"/>
<path d="M60 300 L90 320 L75 360 M180 510 L205 520 L190 560 L150 580" class="n" stroke-width="6"/>
<!-- collar -->
<path d="M215.0 235.0C255.0 210.8 411.7 114.5 455.0 90.0C498.3 65.5 467.5 84.7 475.0 88.0C482.5 91.3 495.8 106.3 500.0 110.0C513.3 136.7 568.3 238.3 580.0 270.0C591.7 301.7 571.7 295.0 570.0 300.0C531.7 320.8 382.5 404.2 340.0 425.0C297.5 445.8 321.7 427.5 315.0 425.0C308.3 422.5 302.5 412.5 300.0 410.0L215.0 235.0Z" fill="#c9d8e4" stroke-width="11"/>
<path d="M258.0 245.0C290.0 225.5 416.0 147.5 450.0 128.0C484.0 108.5 460.0 128.0 462.0 128.0L545.0 268.0C513.3 287.5 388.3 365.8 355.0 385.0C321.7 404.2 346.7 383.3 345.0 383.0L258.0 245.0Z" fill="#6f8da6" stroke-width="7"/>
<path d="M370 180 L395 165 L470 330 L440 345 Z" fill="#a9bfd0" stroke-width="4"/>
<path d="M370 255 L920 0" stroke="#dfe8ef" stroke-width="9" fill="none"/>
</g>
</g>
<!-- 31_part3.svg -->
<g transform="translate(100 395) scale(0.25)" class="o" stroke-width="4">
<!-- left tab -->
<path d="M140 800 L75 775 L50 815 L60 828 L125 842 Z" fill="#b5c8d7" stroke-width="5"/>
<path d="M82 790 L125 805 L118 830 L72 818 Z M95 800 L92 820 M105 812 L120 815" fill="#dce6ee" stroke-width="3"/>
<!-- right tab -->
<path d="M578 508 L620 514 L640 545 L630 590 L600 596 L580 570 Z" fill="#b5c8d7" stroke-width="5"/>
<path d="M605 530 L628 540 L624 572 L605 568 Z" fill="#9fb7c9" stroke-width="3"/>
<!-- silhouette -->
<path d="M375.0 75.0L435.0 40.0C438.3 41.7 445.8 41.7 455.0 50.0C464.2 58.3 479.2 76.7 490.0 90.0C500.8 103.3 510.8 116.7 520.0 130.0C529.2 143.3 538.0 155.8 545.0 170.0C552.0 184.2 556.5 195.0 562.0 215.0C567.5 235.0 574.2 259.2 578.0 290.0C581.8 320.8 584.3 365.0 585.0 400.0C585.7 435.0 582.0 473.3 582.0 500.0C582.0 526.7 582.0 543.3 585.0 560.0C588.0 576.7 596.5 585.0 600.0 600.0C603.5 615.0 606.0 630.0 606.0 650.0C606.0 670.0 605.2 698.7 600.0 720.0C594.8 741.3 588.3 762.2 575.0 778.0C561.7 793.8 535.8 803.8 520.0 815.0C504.2 826.2 486.7 840.0 480.0 845.0L520.0 855.0L525.0 885.0L350.0 990.0L320.0 975.0C318.3 971.7 325.0 965.0 310.0 955.0C295.0 945.0 255.8 929.2 230.0 915.0C204.2 900.8 170.8 883.3 155.0 870.0C139.2 856.7 137.5 846.7 135.0 835.0C132.5 823.3 137.5 810.5 140.0 800.0C142.5 789.5 137.5 785.0 150.0 772.0C162.5 759.0 185.0 738.7 215.0 722.0C245.0 705.3 310.8 680.3 330.0 672.0C332.5 658.3 337.5 622.0 345.0 590.0C352.5 558.0 365.8 520.0 375.0 480.0C384.2 440.0 393.8 386.7 400.0 350.0C406.2 313.3 409.5 285.0 412.0 260.0C414.5 235.0 414.5 210.0 415.0 200.0C413.3 194.7 410.0 175.5 405.0 168.0C400.0 160.5 388.3 157.2 385.0 155.0C383.8 149.2 379.7 133.3 378.0 120.0C376.3 106.7 375.5 82.5 375.0 75.0Z" fill="#c7d6e2" stroke-width="7"/>
<!-- back panel -->
<path d="M415.0 200.0C419.2 202.0 429.2 197.0 440.0 212.0C450.8 227.0 466.7 265.3 480.0 290.0C493.3 314.7 509.5 340.0 520.0 360.0C530.5 380.0 538.0 383.3 543.0 410.0C548.0 436.7 549.5 480.0 550.0 520.0C550.5 560.0 547.7 608.3 546.0 650.0C544.3 691.7 541.0 750.0 540.0 770.0L330.0 672.0C332.5 658.3 337.5 622.0 345.0 590.0C352.5 558.0 365.8 520.0 375.0 480.0C384.2 440.0 393.8 386.7 400.0 350.0C406.2 313.3 409.5 285.0 412.0 260.0C414.5 235.0 414.5 210.0 415.0 200.0Z" fill="url(#gC)" stroke-width="3.5"/>
<path d="M420 245 L545 420 M428 222 L548 395 M392 480 L520 640 M360 660 L500 730" class="n" stroke-width="3"/>
<ellipse cx="530" cy="590" rx="10" ry="13" fill="#a9bfd0" stroke-width="3"/>
<ellipse cx="495" cy="178" rx="9" ry="11" fill="#a9bfd0" stroke-width="3"/>
<path d="M508 165 Q528 172 520 192" class="n" stroke-width="3"/>
<!-- top flange hollow -->
<path d="M385.0 155.0C383.8 149.2 378.0 131.7 378.0 120.0C378.0 108.3 379.7 92.5 385.0 85.0C390.3 77.5 401.7 73.3 410.0 75.0C418.3 76.7 430.0 85.8 435.0 95.0C440.0 104.2 441.7 117.5 440.0 130.0C438.3 142.5 429.2 158.3 425.0 170.0C420.8 181.7 416.7 195.0 415.0 200.0C413.3 194.7 410.0 175.5 405.0 168.0C400.0 160.5 388.3 157.2 385.0 155.0Z" fill="#a4bbcd" stroke-width="3"/>
<!-- right dark band -->
<path d="M585.0 560.0C587.5 566.7 596.5 585.0 600.0 600.0C603.5 615.0 606.0 630.0 606.0 650.0C606.0 670.0 605.2 698.7 600.0 720.0C594.8 741.3 588.3 762.2 575.0 778.0C561.7 793.8 535.8 803.8 520.0 815.0C504.2 826.2 486.7 840.0 480.0 845.0C473.3 842.5 448.3 835.0 440.0 830.0C431.7 825.0 431.7 817.5 430.0 815.0C438.3 812.5 461.7 807.5 480.0 800.0C498.3 792.5 530.0 775.0 540.0 770.0C543.3 758.3 555.7 721.7 560.0 700.0C564.3 678.3 564.0 658.3 566.0 640.0C568.0 621.7 568.8 603.3 572.0 590.0C575.2 576.7 582.8 565.0 585.0 560.0Z" fill="#7391aa" stroke-width="3.5"/>
<!-- base details -->
<path d="M370.0 722.0C377.5 721.2 396.7 720.3 385.0 730.0C373.3 739.7 319.2 767.5 300.0 780.0C280.8 792.5 276.3 795.8 270.0 805.0C263.7 814.2 252.0 824.2 262.0 835.0C272.0 845.8 317.8 861.7 330.0 870.0C342.2 878.3 336.7 881.7 335.0 885.0C333.3 888.3 335.8 895.8 320.0 890.0C304.2 884.2 254.7 863.3 240.0 850.0C225.3 836.7 228.3 821.7 232.0 810.0C235.7 798.3 244.0 792.5 262.0 780.0C280.0 767.5 322.0 744.7 340.0 735.0C358.0 725.3 362.5 722.8 370.0 722.0Z" fill="#d7e3ec" stroke-width="3"/>
<ellipse cx="425" cy="782" rx="48" ry="30" fill="#b9ccda" stroke-width="3.5"/>
<ellipse cx="428" cy="784" rx="26" ry="16" fill="#d0deea" stroke-width="3"/>
<ellipse cx="430" cy="785" rx="7" ry="5" fill="#8aa6bc" stroke-width="2.5"/>
<ellipse cx="237" cy="748" rx="9" ry="7" fill="#a9bfd0" stroke-width="3"/>
<ellipse cx="470" cy="835" rx="9" ry="7" fill="#a9bfd0" stroke-width="3"/>
<path d="M375 855 L395 845 M380 850 L385 860" class="n" stroke-width="3"/>
<!-- connector -->
<path d="M320 975 L330 945 L495 850 L520 855 L525 885 L350 990 Z" fill="#b4c7d6" stroke-width="5"/>
<path d="M345 955 L500 868 L505 885 L355 972 Z" fill="#dfe8ef" stroke-width="3"/>
<path d="M310 955 L330 945" class="n" stroke-width="3"/>
<path d="M135.0 835.0C138.3 840.8 139.2 856.7 155.0 870.0C170.8 883.3 204.2 900.8 230.0 915.0C255.8 929.2 296.7 948.3 310.0 955.0" class="n" stroke-width="3"/>
<path d="M150.0 825.0C153.3 829.5 155.0 840.3 170.0 852.0C185.0 863.7 215.3 881.2 240.0 895.0C264.7 908.8 305.0 928.3 318.0 935.0" class="n" stroke-width="3"/>
<path d="M135.0 835.0C138.3 840.8 139.2 856.7 155.0 870.0C170.8 883.3 204.2 900.8 230.0 915.0C255.8 929.2 296.7 948.3 310.0 955.0L330.0 945.0L318.0 935.0C305.0 928.3 264.7 908.8 240.0 895.0C215.3 881.2 185.0 863.7 170.0 852.0C155.0 840.3 153.3 829.5 150.0 825.0L135.0 835.0Z" fill="#8aa6bc" stroke-width="3"/>
<path d="M375.0 75.0L435.0 40.0C438.3 41.7 445.8 41.7 455.0 50.0C464.2 58.3 479.2 76.7 490.0 90.0C500.8 103.3 510.8 116.7 520.0 130.0C529.2 143.3 538.0 155.8 545.0 170.0C552.0 184.2 556.5 195.0 562.0 215.0C567.5 235.0 574.2 259.2 578.0 290.0C581.8 320.8 584.3 365.0 585.0 400.0C585.7 435.0 582.0 473.3 582.0 500.0C582.0 526.7 582.0 543.3 585.0 560.0C588.0 576.7 596.5 585.0 600.0 600.0C603.5 615.0 606.0 630.0 606.0 650.0C606.0 670.0 605.2 698.7 600.0 720.0C594.8 741.3 588.3 762.2 575.0 778.0C561.7 793.8 535.8 803.8 520.0 815.0C504.2 826.2 486.7 840.0 480.0 845.0L520.0 855.0L525.0 885.0L350.0 990.0L320.0 975.0C318.3 971.7 325.0 965.0 310.0 955.0C295.0 945.0 255.8 929.2 230.0 915.0C204.2 900.8 170.8 883.3 155.0 870.0C139.2 856.7 137.5 846.7 135.0 835.0C132.5 823.3 137.5 810.5 140.0 800.0C142.5 789.5 137.5 785.0 150.0 772.0C162.5 759.0 185.0 738.7 215.0 722.0C245.0 705.3 310.8 680.3 330.0 672.0C332.5 658.3 337.5 622.0 345.0 590.0C352.5 558.0 365.8 520.0 375.0 480.0C384.2 440.0 393.8 386.7 400.0 350.0C406.2 313.3 409.5 285.0 412.0 260.0C414.5 235.0 414.5 210.0 415.0 200.0C413.3 194.7 410.0 175.5 405.0 168.0C400.0 160.5 388.3 157.2 385.0 155.0C383.8 149.2 379.7 133.3 378.0 120.0C376.3 106.7 375.5 82.5 375.0 75.0Z" fill="none" stroke-width="7"/>
</g>
<!-- 32_part4.svg -->
<g transform="translate(335 310) scale(0.25)" class="o" stroke-width="4">
<!-- tab -->
<path d="M452.0 408.0C450.0 403.0 437.0 385.2 440.0 378.0C443.0 370.8 456.7 368.0 470.0 365.0C483.3 362.0 507.5 355.0 520.0 360.0C532.5 365.0 540.8 389.2 545.0 395.0L452.0 408.0Z" fill="#b9ccda" stroke-width="5"/>
<path d="M468.0 395.0C467.0 392.8 459.2 385.2 462.0 382.0C464.8 378.8 476.2 377.3 485.0 376.0C493.8 374.7 508.3 371.7 515.0 374.0C521.7 376.3 523.3 387.3 525.0 390.0L468.0 395.0Z" fill="#dfe8ef" stroke-width="3"/>
<path d="M42.0 78.0L105.0 42.0C107.5 44.2 110.8 45.3 120.0 55.0C129.2 64.7 141.7 82.5 160.0 100.0C178.3 117.5 208.3 135.0 230.0 160.0C251.7 185.0 270.8 223.3 290.0 250.0C309.2 276.7 331.3 296.7 345.0 320.0C358.7 343.3 365.3 369.2 372.0 390.0C378.7 410.8 382.8 435.8 385.0 445.0L450.0 408.0L545.0 395.0C554.2 396.7 574.2 395.8 600.0 405.0C625.8 414.2 670.0 435.5 700.0 450.0C730.0 464.5 766.7 485.0 780.0 492.0C785.8 491.7 806.7 487.0 815.0 490.0C823.3 493.0 829.2 501.7 830.0 510.0C830.8 518.3 821.7 535.0 820.0 540.0L650.0 630.0L612.0 590.0C606.7 590.3 588.7 590.0 580.0 592.0C571.3 594.0 570.0 592.3 560.0 602.0C550.0 611.7 536.7 637.8 520.0 650.0C503.3 662.2 474.2 674.2 460.0 675.0C445.8 675.8 439.2 658.3 435.0 655.0C429.2 645.8 417.5 618.3 400.0 600.0C382.5 581.7 351.7 560.0 330.0 545.0C308.3 530.0 280.8 525.8 270.0 510.0C259.2 494.2 265.8 460.0 265.0 450.0C256.7 440.0 227.5 413.3 215.0 390.0C202.5 366.7 200.8 331.7 190.0 310.0C179.2 288.3 165.0 280.0 150.0 260.0C135.0 240.0 117.5 204.2 100.0 190.0C82.5 175.8 54.2 177.5 45.0 175.0L42.0 78.0Z" fill="#c7d6e2" stroke-width="7"/>
<!-- arm dark side -->
<path d="M42.0 78.0L62.0 92.0C63.0 104.7 58.3 149.2 68.0 168.0C77.7 186.8 102.2 189.3 120.0 205.0C137.8 220.7 157.5 246.2 175.0 262.0C192.5 277.8 210.5 288.7 225.0 300.0C239.5 311.3 246.2 313.3 262.0 330.0C277.8 346.7 305.3 376.7 320.0 400.0C334.7 423.3 337.5 443.3 350.0 470.0C362.5 496.7 383.3 536.7 395.0 560.0C406.7 583.3 413.3 594.2 420.0 610.0C426.7 625.8 432.5 647.5 435.0 655.0C429.2 645.8 417.5 618.3 400.0 600.0C382.5 581.7 351.7 560.0 330.0 545.0C308.3 530.0 280.8 525.8 270.0 510.0C259.2 494.2 265.8 460.0 265.0 450.0C256.7 440.0 227.5 413.3 215.0 390.0C202.5 366.7 200.8 331.7 190.0 310.0C179.2 288.3 165.0 280.0 150.0 260.0C135.0 240.0 117.5 204.2 100.0 190.0C82.5 175.8 54.2 177.5 45.0 175.0L42.0 78.0Z" fill="url(#gM)" stroke-width="3.5"/>
<path d="M68.0 168.0C76.7 174.2 102.2 189.3 120.0 205.0C137.8 220.7 157.5 246.2 175.0 262.0C192.5 277.8 210.5 288.7 225.0 300.0C239.5 311.3 246.2 313.3 262.0 330.0C277.8 346.7 305.3 376.7 320.0 400.0C334.7 423.3 345.0 458.3 350.0 470.0C346.7 455.0 344.7 408.3 330.0 380.0C315.3 351.7 287.0 321.7 262.0 300.0C237.0 278.3 203.7 270.0 180.0 250.0C156.3 230.0 139.7 206.3 120.0 180.0C100.3 153.7 71.7 106.7 62.0 92.0L68.0 168.0Z" fill="#a3bacc" stroke-width="3"/>
<path d="M195.0 315.0C202.5 320.0 224.2 330.8 240.0 345.0C255.8 359.2 275.0 379.2 290.0 400.0C305.0 420.8 320.8 450.0 330.0 470.0C339.2 490.0 342.5 511.7 345.0 520.0" class="n" stroke-width="3"/>
<path d="M120.0 55.0C126.7 65.8 140.0 92.5 160.0 120.0C180.0 147.5 216.7 190.0 240.0 220.0C263.3 250.0 282.5 273.3 300.0 300.0C317.5 326.7 333.0 351.7 345.0 380.0C357.0 408.3 367.5 455.0 372.0 470.0" class="n" stroke-width="3"/>
<path d="M200 165 Q175 160 175 180 Q182 198 200 190" class="n" stroke-width="3"/>
<!-- end flange -->
<path d="M42 78 L105 42 L120 55 L62 92 Z" fill="#dce7ef" stroke-width="3.5"/>
<!-- base rim dark -->
<path d="M385.0 445.0C386.7 454.2 389.2 480.8 395.0 500.0C400.8 519.2 410.8 543.3 420.0 560.0C429.2 576.7 433.3 594.7 450.0 600.0C466.7 605.3 501.7 597.0 520.0 592.0C538.3 587.0 544.7 572.8 560.0 570.0C575.3 567.2 603.3 574.2 612.0 575.0L612.0 590.0C606.7 590.3 588.7 590.0 580.0 592.0C571.3 594.0 570.0 592.3 560.0 602.0C550.0 611.7 536.7 637.8 520.0 650.0C503.3 662.2 474.2 674.2 460.0 675.0C445.8 675.8 439.2 658.3 435.0 655.0C429.2 645.8 410.5 622.5 400.0 600.0C389.5 577.5 374.5 545.8 372.0 520.0C369.5 494.2 382.8 457.5 385.0 445.0Z" fill="#6f8da6" stroke-width="3.5"/>
<!-- base plate features -->
<path d="M415.0 520.0C417.5 516.7 412.5 510.8 430.0 500.0C447.5 489.2 491.7 463.3 520.0 455.0C548.3 446.7 571.7 444.2 600.0 450.0C628.3 455.8 676.7 480.8 690.0 490.0C703.3 499.2 695.0 507.5 680.0 505.0C665.0 502.5 625.0 479.5 600.0 475.0C575.0 470.5 555.0 470.5 530.0 478.0C505.0 485.5 465.0 509.7 450.0 520.0C435.0 530.3 441.7 536.7 440.0 540.0L415.0 520.0Z" fill="#d7e3ec" stroke-width="3"/>
<ellipse cx="500" cy="552" rx="50" ry="30" fill="#b9ccda" stroke-width="3.5"/>
<ellipse cx="505" cy="556" rx="30" ry="18" fill="#d0deea" stroke-width="3"/>
<ellipse cx="507" cy="557" rx="9" ry="6" fill="#7d9ab3" stroke-width="2.5"/>
<ellipse cx="430" cy="452" rx="11" ry="8" fill="#a9bfd0" stroke-width="3"/>
<path d="M600 555 L600 535 L620 533 L622 545 L605 548" class="n" stroke-width="3"/>
<path d="M370 480 L395 490 L400 515 L378 508 Z" fill="#dfe8ef" stroke-width="3"/>
<!-- connector end -->
<path d="M612 575 L780 492 L815 490 L830 510 L820 540 L650 630 L612 590 Z" fill="#b4c7d6" stroke-width="4"/>
<path d="M640 588 L790 512 L808 520 L655 605 Z" fill="#dfe8ef" stroke-width="3"/>
<path d="M640 575 L785 500" class="n" stroke-width="3"/>
<path d="M42.0 78.0L105.0 42.0C107.5 44.2 110.8 45.3 120.0 55.0C129.2 64.7 141.7 82.5 160.0 100.0C178.3 117.5 208.3 135.0 230.0 160.0C251.7 185.0 270.8 223.3 290.0 250.0C309.2 276.7 331.3 296.7 345.0 320.0C358.7 343.3 365.3 369.2 372.0 390.0C378.7 410.8 382.8 435.8 385.0 445.0L450.0 408.0L545.0 395.0C554.2 396.7 574.2 395.8 600.0 405.0C625.8 414.2 670.0 435.5 700.0 450.0C730.0 464.5 766.7 485.0 780.0 492.0C785.8 491.7 806.7 487.0 815.0 490.0C823.3 493.0 829.2 501.7 830.0 510.0C830.8 518.3 821.7 535.0 820.0 540.0L650.0 630.0L612.0 590.0C606.7 590.3 588.7 590.0 580.0 592.0C571.3 594.0 570.0 592.3 560.0 602.0C550.0 611.7 536.7 637.8 520.0 650.0C503.3 662.2 474.2 674.2 460.0 675.0C445.8 675.8 439.2 658.3 435.0 655.0C429.2 645.8 417.5 618.3 400.0 600.0C382.5 581.7 351.7 560.0 330.0 545.0C308.3 530.0 280.8 525.8 270.0 510.0C259.2 494.2 265.8 460.0 265.0 450.0C256.7 440.0 227.5 413.3 215.0 390.0C202.5 366.7 200.8 331.7 190.0 310.0C179.2 288.3 165.0 280.0 150.0 260.0C135.0 240.0 117.5 204.2 100.0 190.0C82.5 175.8 54.2 177.5 45.0 175.0L42.0 78.0Z" fill="none" stroke-width="7"/>
</g>
<!-- 33_part5.svg -->
<g transform="translate(195 580) scale(0.25)" class="o" stroke-width="4">
<path d="M35.0 268.0L215.0 165.0C224.2 166.7 239.2 162.5 270.0 175.0C300.8 187.5 358.3 215.8 400.0 240.0C441.7 264.2 480.0 295.8 520.0 320.0C560.0 344.2 610.0 370.0 640.0 385.0C670.0 400.0 690.0 405.8 700.0 410.0C703.3 413.3 703.3 417.5 720.0 430.0C736.7 442.5 786.7 475.8 800.0 485.0L820.0 520.0L700.0 598.0L660.0 565.0L645.0 585.0L640.0 625.0L475.0 720.0C469.2 715.8 448.8 707.5 440.0 695.0C431.2 682.5 423.7 662.5 422.0 645.0C420.3 627.5 433.7 612.5 430.0 590.0C426.3 567.5 416.7 535.0 400.0 510.0C383.3 485.0 358.3 460.8 330.0 440.0C301.7 419.2 263.3 402.5 230.0 385.0C196.7 367.5 155.8 348.3 130.0 335.0C104.2 321.7 84.2 310.0 75.0 305.0L40.0 295.0L35.0 268.0Z" fill="url(#gT)" stroke-width="7"/>
<!-- underside dark -->
<path d="M75.0 305.0C84.2 310.0 104.2 321.7 130.0 335.0C155.8 348.3 196.7 367.5 230.0 385.0C263.3 402.5 301.7 419.2 330.0 440.0C358.3 460.8 383.3 485.0 400.0 510.0C416.7 535.0 426.3 567.5 430.0 590.0C433.7 612.5 420.3 627.5 422.0 645.0C423.7 662.5 431.2 682.5 440.0 695.0C448.8 707.5 469.2 715.8 475.0 720.0C473.8 713.3 470.2 700.0 468.0 680.0C465.8 660.0 465.8 622.5 462.0 600.0C458.2 577.5 454.5 565.0 445.0 545.0C435.5 525.0 424.2 502.5 405.0 480.0C385.8 457.5 362.5 432.5 330.0 410.0C297.5 387.5 249.2 363.7 210.0 345.0C170.8 326.3 114.2 305.8 95.0 298.0L75.0 305.0Z" fill="#7391aa" stroke-width="3.5"/>
<path d="M95.0 298.0C114.2 305.8 170.8 326.3 210.0 345.0C249.2 363.7 297.5 387.5 330.0 410.0C362.5 432.5 385.8 457.5 405.0 480.0C424.2 502.5 438.3 534.2 445.0 545.0C440.8 535.8 437.5 514.2 420.0 490.0C402.5 465.8 373.3 425.8 340.0 400.0C306.7 374.2 260.0 353.7 220.0 335.0C180.0 316.3 120.0 295.8 100.0 288.0L95.0 298.0Z" fill="#a9bfd0" stroke-width="3"/>
<!-- left end -->
<path d="M35 268 L70 250 L78 285 L75 305 L40 295 Z" fill="#aabfd0" stroke-width="3.5"/>
<ellipse cx="93" cy="297" rx="6" ry="8" fill="#8aa6bc" stroke-width="3"/>
<path d="M70 250 L230 170 M150 212 L215 178" class="n" stroke-width="3"/>
<!-- slots -->
<path d="M182.0 228.0C184.5 225.5 175.3 217.3 200.0 228.0C224.7 238.7 308.3 279.2 330.0 292.0C351.7 304.8 333.0 302.8 330.0 305.0C327.0 307.2 336.2 315.3 312.0 305.0C287.8 294.7 206.7 255.8 185.0 243.0C163.3 230.2 179.5 230.5 182.0 228.0Z" fill="#dfe8ef" stroke-width="3"/>
<path d="M195 236 L320 298" class="n" stroke-width="4" stroke="#5d7a93"/>
<path d="M430.0 375.0C432.5 372.0 436.7 365.3 450.0 372.0C463.3 378.7 491.7 402.0 510.0 415.0C528.3 428.0 550.8 442.2 560.0 450.0C569.2 457.8 567.5 460.0 565.0 462.0C562.5 464.0 559.2 469.0 545.0 462.0C530.8 455.0 498.3 432.0 480.0 420.0C461.7 408.0 443.3 397.5 435.0 390.0C426.7 382.5 427.5 378.0 430.0 375.0Z" fill="#dfe8ef" stroke-width="3"/>
<path d="M440.0 382.0C450.0 387.5 480.8 402.5 500.0 415.0C519.2 427.5 545.8 450.0 555.0 457.0" class="n" stroke-width="4" stroke="#5d7a93"/>
<ellipse cx="535" cy="560" rx="16" ry="32" fill="#dfe8ef" stroke-width="3" transform="rotate(-15 535 560)"/>
<ellipse cx="532" cy="558" rx="7" ry="22" fill="#86a2ba" stroke-width="2" transform="rotate(-15 532 558)"/>
<ellipse cx="672" cy="470" rx="36" ry="15" fill="#dfe8ef" stroke-width="3" transform="rotate(25 672 470)"/>
<ellipse cx="670" cy="468" rx="24" ry="7" fill="#86a2ba" stroke-width="2" transform="rotate(25 670 468)"/>
<circle cx="320" cy="240" r="6" fill="#7d9ab3" stroke-width="2"/>
<circle cx="210" cy="300" r="6" fill="#7d9ab3" stroke-width="2"/>
<circle cx="588" cy="472" r="5" fill="#7d9ab3" stroke-width="2"/>
<path d="M265 225 L280 230 L278 218" class="n" stroke-width="3"/>
<!-- fold line -->
<path d="M455 580 L720 430" class="n" stroke-width="3"/>
<!-- front faces -->
<path d="M475 720 L640 625 L645 585 L470 685 Z" fill="#b4c7d6" stroke-width="3.5"/>
<path d="M700 598 L820 520 L800 485 L690 555 Z" fill="#b4c7d6" stroke-width="3.5"/>
<path d="M596 540 L625 522 L660 540 L660 565 L645 585 L640 600 L610 560 Z" fill="#89a5bb" stroke-width="3.5"/>
<path d="M600 542 L622 530 L630 548 L610 560 Z" fill="#4f6b83" stroke-width="2.5"/>
<path d="M35.0 268.0L215.0 165.0C224.2 166.7 239.2 162.5 270.0 175.0C300.8 187.5 358.3 215.8 400.0 240.0C441.7 264.2 480.0 295.8 520.0 320.0C560.0 344.2 610.0 370.0 640.0 385.0C670.0 400.0 690.0 405.8 700.0 410.0C703.3 413.3 703.3 417.5 720.0 430.0C736.7 442.5 786.7 475.8 800.0 485.0L820.0 520.0L700.0 598.0L660.0 565.0L645.0 585.0L640.0 625.0L475.0 720.0C469.2 715.8 448.8 707.5 440.0 695.0C431.2 682.5 423.7 662.5 422.0 645.0C420.3 627.5 433.7 612.5 430.0 590.0C426.3 567.5 416.7 535.0 400.0 510.0C383.3 485.0 358.3 460.8 330.0 440.0C301.7 419.2 263.3 402.5 230.0 385.0C196.7 367.5 155.8 348.3 130.0 335.0C104.2 321.7 84.2 310.0 75.0 305.0L40.0 295.0L35.0 268.0Z" fill="none" stroke-width="7"/>
</g>
<!-- 34_part6.svg -->
<g transform="translate(515 415) scale(0.25)" class="o" stroke-width="4">
<path d="M40.0 215.0L140.0 160.0L150.0 150.0L230.0 110.0C240.0 111.7 261.7 107.5 290.0 120.0C318.3 132.5 361.7 163.3 400.0 185.0C438.3 206.7 480.0 230.8 520.0 250.0C560.0 269.2 603.3 287.5 640.0 300.0C676.7 312.5 710.0 320.0 740.0 325.0C770.0 330.0 793.3 330.5 820.0 330.0C846.7 329.5 886.7 323.3 900.0 322.0C906.7 323.3 925.8 325.3 940.0 330.0C954.2 334.7 977.5 346.7 985.0 350.0L990.0 375.0L850.0 475.0L770.0 480.0L775.0 515.0L650.0 580.0C635.0 573.3 584.2 552.5 560.0 540.0C535.8 527.5 514.2 510.8 505.0 505.0L495.0 480.0C479.2 470.8 437.5 445.0 400.0 425.0C362.5 405.0 310.0 381.7 270.0 360.0C230.0 338.3 188.3 310.0 160.0 295.0C131.7 280.0 110.0 274.2 100.0 270.0L45.0 250.0L40.0 215.0Z" fill="url(#gT)" stroke-width="7"/>
<!-- underside -->
<path d="M100.0 270.0C110.0 274.2 131.7 280.0 160.0 295.0C188.3 310.0 230.0 338.3 270.0 360.0C310.0 381.7 362.5 405.0 400.0 425.0C437.5 445.0 479.2 470.8 495.0 480.0L505.0 505.0C514.2 510.8 535.8 527.5 560.0 540.0C584.2 552.5 635.0 573.3 650.0 580.0L650.0 552.0C635.0 545.3 584.2 525.7 560.0 512.0C535.8 498.3 531.7 489.0 505.0 470.0C478.3 451.0 434.2 418.8 400.0 398.0C365.8 377.2 333.3 362.2 300.0 345.0C266.7 327.8 231.7 310.8 200.0 295.0C168.3 279.2 125.0 257.5 110.0 250.0L100.0 270.0Z" fill="#7b98b0" stroke-width="3.5"/>
<path d="M110.0 250.0C125.0 257.5 168.3 279.2 200.0 295.0C231.7 310.8 266.7 327.8 300.0 345.0C333.3 362.2 365.8 377.2 400.0 398.0C434.2 418.8 487.5 458.0 505.0 470.0C487.5 455.8 434.2 408.3 400.0 385.0C365.8 361.7 333.3 347.5 300.0 330.0C266.7 312.5 230.8 295.0 200.0 280.0C169.2 265.0 129.2 246.7 115.0 240.0L110.0 250.0Z" fill="#aabfd0" stroke-width="3"/>
<path d="M40 215 L80 198 L100 240 L100 270 L45 250 Z" fill="#aabfd0" stroke-width="3.5"/>
<ellipse cx="98" cy="258" rx="5" ry="7" fill="#7d9ab3" stroke-width="2.5"/>
<path d="M80 198 L235 118" class="n" stroke-width="3"/>
<!-- front faces -->
<path d="M650 552 L770 488 L775 515 L650 580 Z" fill="#b4c7d6" stroke-width="3.5"/>
<path d="M840 448 L985 350 L990 375 L850 475 Z" fill="#b4c7d6" stroke-width="3.5"/>
<path d="M705 432 L735 418 L790 440 L840 448 L850 475 L770 480 L770 488 L745 462 Z" fill="#89a5bb" stroke-width="3.5"/>
<path d="M712 434 L735 424 L752 440 L735 452 Z" fill="#4f6b83" stroke-width="2.5"/>
<!-- slots -->
<path d="M196.0 180.0C198.5 176.8 191.8 166.0 215.0 176.0C238.2 186.0 314.2 227.0 335.0 240.0C355.8 253.0 342.2 251.3 340.0 254.0C337.8 256.7 345.3 265.8 322.0 256.0C298.7 246.2 221.0 207.7 200.0 195.0C179.0 182.3 193.5 183.2 196.0 180.0Z" fill="#dfe8ef" stroke-width="3"/>
<path d="M446.0 322.0C448.2 318.7 439.3 308.7 465.0 318.0C490.7 327.3 575.8 365.7 600.0 378.0C624.2 390.3 611.7 389.3 610.0 392.0C608.3 394.7 616.3 403.0 590.0 394.0C563.7 385.0 476.0 350.0 452.0 338.0C428.0 326.0 443.8 325.3 446.0 322.0Z" fill="#dfe8ef" stroke-width="3"/>
<ellipse cx="770" cy="380" rx="68" ry="13" fill="#dfe8ef" stroke-width="3" transform="rotate(10 770 380)"/>
<ellipse cx="770" cy="380" rx="55" ry="7" fill="#7d9ab3" stroke-width="2" transform="rotate(10 770 380)"/>
<ellipse cx="625" cy="462" rx="48" ry="14" fill="#dfe8ef" stroke-width="3" transform="rotate(28 625 462)"/>
<ellipse cx="625" cy="462" rx="38" ry="7" fill="#7d9ab3" stroke-width="2" transform="rotate(28 625 462)"/>
<circle cx="328" cy="186" r="6" fill="#7d9ab3" stroke-width="2"/>
<circle cx="218" cy="250" r="6" fill="#7d9ab3" stroke-width="2"/>
<circle cx="625" cy="408" r="5" fill="#7d9ab3" stroke-width="2"/>
<path d="M178 240 L180 218 L198 216 L202 228 L186 232 M195 232 L205 245" class="n" stroke-width="3"/>
<path d="M560 500 L900 322" class="n" stroke-width="3"/>
<path d="M480 470 Q500 480 505 505 M495 462 Q515 475 520 512" class="n" stroke-width="3"/>
<path d="M40.0 215.0L140.0 160.0L150.0 150.0L230.0 110.0C240.0 111.7 261.7 107.5 290.0 120.0C318.3 132.5 361.7 163.3 400.0 185.0C438.3 206.7 480.0 230.8 520.0 250.0C560.0 269.2 603.3 287.5 640.0 300.0C676.7 312.5 710.0 320.0 740.0 325.0C770.0 330.0 793.3 330.5 820.0 330.0C846.7 329.5 886.7 323.3 900.0 322.0C906.7 323.3 925.8 325.3 940.0 330.0C954.2 334.7 977.5 346.7 985.0 350.0L990.0 375.0L850.0 475.0L770.0 480.0L775.0 515.0L650.0 580.0C635.0 573.3 584.2 552.5 560.0 540.0C535.8 527.5 514.2 510.8 505.0 505.0L495.0 480.0C479.2 470.8 437.5 445.0 400.0 425.0C362.5 405.0 310.0 381.7 270.0 360.0C230.0 338.3 188.3 310.0 160.0 295.0C131.7 280.0 110.0 274.2 100.0 270.0L45.0 250.0L40.0 215.0Z" fill="none" stroke-width="7"/>
</g>
<!-- 35_part20.svg -->
<g transform="translate(535 560) scale(0.19153)" class="o" stroke-width="5">
<path d="M28.0 215.0C30.0 212.5 26.3 208.3 40.0 200.0C53.7 191.7 83.3 179.2 110.0 165.0C136.7 150.8 171.7 126.7 200.0 115.0C228.3 103.3 258.3 101.7 280.0 95.0C301.7 88.3 310.0 80.0 330.0 75.0C350.0 70.0 380.0 65.0 400.0 65.0C420.0 65.0 433.3 70.0 450.0 75.0C466.7 80.0 481.7 85.8 500.0 95.0C518.3 104.2 540.0 119.2 560.0 130.0C580.0 140.8 610.0 155.0 620.0 160.0L660.0 130.0L820.0 42.0C825.0 43.3 836.7 42.0 850.0 50.0C863.3 58.0 885.0 75.0 900.0 90.0C915.0 105.0 932.5 125.8 940.0 140.0C947.5 154.2 944.2 169.2 945.0 175.0C935.8 181.7 902.5 204.2 890.0 215.0C877.5 225.8 873.3 235.8 870.0 240.0L850.0 245.0L745.0 295.0L740.0 325.0L705.0 325.0L690.0 300.0C681.7 305.0 660.0 319.2 640.0 330.0C620.0 340.8 593.3 357.5 570.0 365.0C546.7 372.5 521.7 376.7 500.0 375.0C478.3 373.3 460.0 364.2 440.0 355.0C420.0 345.8 398.3 328.3 380.0 320.0C361.7 311.7 350.0 305.0 330.0 305.0C310.0 305.0 283.3 312.5 260.0 320.0C236.7 327.5 211.7 340.8 190.0 350.0C168.3 359.2 140.0 370.8 130.0 375.0C123.3 370.8 102.5 362.5 90.0 350.0C77.5 337.5 65.0 316.7 55.0 300.0C45.0 283.3 34.5 264.2 30.0 250.0C25.5 235.8 28.3 220.8 28.0 215.0Z" fill="#8aa6bc" stroke-width="9"/>
<!-- left top face -->
<path d="M40.0 200.0C51.7 194.2 83.3 179.2 110.0 165.0C136.7 150.8 171.7 126.7 200.0 115.0C228.3 103.3 263.3 97.5 280.0 95.0C296.7 92.5 296.7 99.2 300.0 100.0L310.0 160.0C296.7 163.3 258.3 172.5 230.0 180.0C201.7 187.5 168.3 197.5 140.0 205.0C111.7 212.5 73.3 221.7 60.0 225.0L40.0 200.0Z" fill="#c7d6e2" stroke-width="4"/>
<!-- left front face -->
<path d="M28.0 215.0L40.0 200.0L60.0 225.0C73.3 221.7 111.7 212.5 140.0 205.0C168.3 197.5 201.7 187.5 230.0 180.0C258.3 172.5 296.7 163.3 310.0 160.0L320.0 290.0C310.0 295.0 281.7 310.0 260.0 320.0C238.3 330.0 211.7 340.8 190.0 350.0C168.3 359.2 140.0 370.8 130.0 375.0C123.3 370.8 102.5 362.5 90.0 350.0C77.5 337.5 65.0 316.7 55.0 300.0C45.0 283.3 34.5 264.2 30.0 250.0C25.5 235.8 28.3 220.8 28.0 215.0Z" fill="url(#gC)" stroke-width="4"/>
<path d="M62.0 235.0C66.7 245.8 79.5 280.8 90.0 300.0C100.5 319.2 119.2 341.7 125.0 350.0" class="n" stroke-width="4"/>
<path d="M85.0 290.0C97.5 285.3 134.2 269.5 160.0 262.0C185.8 254.5 213.7 245.0 240.0 245.0C266.3 245.0 305.0 259.2 318.0 262.0" class="n" stroke-width="4"/>
<path d="M130.0 375.0C140.0 370.8 168.3 359.2 190.0 350.0C211.7 340.8 238.3 330.0 260.0 320.0C281.7 310.0 310.0 295.0 320.0 290.0C319.7 285.3 329.7 262.0 318.0 262.0C306.3 262.0 273.0 280.7 250.0 290.0C227.0 299.3 202.0 308.8 180.0 318.0C158.0 327.2 126.3 335.5 118.0 345.0C109.7 354.5 128.0 370.0 130.0 375.0Z" fill="#65839c" stroke-width="3.5"/>
<path d="M75 205 L78 215 L120 200 L180 175 L178 165" class="n" stroke-width="3.5"/>
<!-- ring -->
<path d="M300 100 L330 75 L395 120 L360 150 Z" fill="#d7e3ec" stroke-width="4"/>
<path d="M310 160 L360 150 L370 300 L330 305 L320 290 Z" fill="#a9bfd0" stroke-width="4"/>
<path d="M300 100 L310 160 M360 150 L310 160" class="n" stroke-width="4"/>
<!-- right top face -->
<path d="M395.0 120.0L330.0 75.0C341.7 73.3 380.0 65.0 400.0 65.0C420.0 65.0 433.3 70.0 450.0 75.0C466.7 80.0 481.7 85.8 500.0 95.0C518.3 104.2 540.0 119.2 560.0 130.0C580.0 140.8 610.0 155.0 620.0 160.0L640.0 180.0C633.3 184.2 616.7 199.2 600.0 205.0C583.3 210.8 560.0 217.5 540.0 215.0C520.0 212.5 500.0 198.3 480.0 190.0C460.0 181.7 440.0 171.7 420.0 165.0C400.0 158.3 370.0 152.5 360.0 150.0L395.0 120.0Z" fill="#c9d8e4" stroke-width="4"/>
<path d="M395 120 L430 130 L490 95 L450 75 M430 130 L520 175 L600 185 M440 100 L480 112" class="n" stroke-width="3.5"/>
<path d="M430 130 L490 95 L560 130 L610 165 L600 185 L520 175 Z" fill="#b9ccda" stroke-width="3.5"/>
<!-- right front face -->
<path d="M360.0 150.0C370.0 152.5 400.0 158.3 420.0 165.0C440.0 171.7 460.0 181.7 480.0 190.0C500.0 198.3 520.0 212.5 540.0 215.0C560.0 217.5 583.3 210.8 600.0 205.0C616.7 199.2 633.3 184.2 640.0 180.0L690.0 300.0C681.7 305.0 660.0 319.2 640.0 330.0C620.0 340.8 593.3 357.5 570.0 365.0C546.7 372.5 521.7 376.7 500.0 375.0C478.3 373.3 460.0 364.2 440.0 355.0C420.0 345.8 391.7 329.2 380.0 320.0C368.3 310.8 371.7 303.3 370.0 300.0L360.0 150.0Z" fill="url(#gC)" stroke-width="4"/>
<path d="M365.0 240.0C375.8 245.0 404.2 260.0 430.0 270.0C455.8 280.0 491.7 298.3 520.0 300.0C548.3 301.7 575.8 290.0 600.0 280.0C624.2 270.0 654.2 246.7 665.0 240.0" class="n" stroke-width="4"/>
<path d="M370.0 300.0C371.7 303.3 368.3 310.8 380.0 320.0C391.7 329.2 420.0 345.8 440.0 355.0C460.0 364.2 478.3 373.3 500.0 375.0C521.7 376.7 546.7 372.5 570.0 365.0C593.3 357.5 620.0 340.8 640.0 330.0C660.0 319.2 681.7 305.0 690.0 300.0C688.3 296.3 691.7 276.3 680.0 278.0C668.3 279.7 640.0 299.7 620.0 310.0C600.0 320.3 580.0 333.3 560.0 340.0C540.0 346.7 520.0 351.3 500.0 350.0C480.0 348.7 459.2 340.7 440.0 332.0C420.8 323.3 396.7 303.3 385.0 298.0C373.3 292.7 372.5 299.7 370.0 300.0Z" fill="#65839c" stroke-width="3.5"/>
<!-- clips -->
<path d="M155 240 L160 265 L185 268 L190 232 M245 215 L250 240 L275 243 L280 208 M445 315 L470 350 L495 355 L500 335 M548 315 L555 335 L580 332 L580 300 M625 262 L630 280 L655 275 L650 250" class="n" stroke-width="4.5"/>
<!-- collar -->
<path d="M620.0 160.0L660.0 130.0L820.0 42.0C825.0 43.3 836.7 42.0 850.0 50.0C863.3 58.0 885.0 75.0 900.0 90.0C915.0 105.0 932.5 125.8 940.0 140.0C947.5 154.2 944.2 169.2 945.0 175.0C935.8 181.7 902.5 204.2 890.0 215.0C877.5 225.8 873.3 235.8 870.0 240.0L850.0 245.0L745.0 295.0L740.0 325.0L705.0 325.0L690.0 300.0L640.0 180.0L620.0 160.0Z" fill="#9fb7c9" stroke-width="5"/>
<path d="M668 165 L820 75 L905 160 L745 265 L720 270 Z" fill="#5f7c95" stroke-width="4.5"/>
<path d="M730 128 L762 110 L805 215 L770 238 Z" fill="#d3dfe9" stroke-width="3.5"/>
<path d="M775 112 L828 84 L885 165 L812 205 Z" fill="#8aa6bc" stroke-width="3.5"/>
<path d="M650 150 L700 295 M720 270 L745 295 M905 160 L940 175 M850 245 L845 205" class="n" stroke-width="4"/>
<path d="M28.0 215.0C30.0 212.5 26.3 208.3 40.0 200.0C53.7 191.7 83.3 179.2 110.0 165.0C136.7 150.8 171.7 126.7 200.0 115.0C228.3 103.3 258.3 101.7 280.0 95.0C301.7 88.3 310.0 80.0 330.0 75.0C350.0 70.0 380.0 65.0 400.0 65.0C420.0 65.0 433.3 70.0 450.0 75.0C466.7 80.0 481.7 85.8 500.0 95.0C518.3 104.2 540.0 119.2 560.0 130.0C580.0 140.8 610.0 155.0 620.0 160.0L660.0 130.0L820.0 42.0C825.0 43.3 836.7 42.0 850.0 50.0C863.3 58.0 885.0 75.0 900.0 90.0C915.0 105.0 932.5 125.8 940.0 140.0C947.5 154.2 944.2 169.2 945.0 175.0C935.8 181.7 902.5 204.2 890.0 215.0C877.5 225.8 873.3 235.8 870.0 240.0L850.0 245.0L745.0 295.0L740.0 325.0L705.0 325.0L690.0 300.0C681.7 305.0 660.0 319.2 640.0 330.0C620.0 340.8 593.3 357.5 570.0 365.0C546.7 372.5 521.7 376.7 500.0 375.0C478.3 373.3 460.0 364.2 440.0 355.0C420.0 345.8 398.3 328.3 380.0 320.0C361.7 311.7 350.0 305.0 330.0 305.0C310.0 305.0 283.3 312.5 260.0 320.0C236.7 327.5 211.7 340.8 190.0 350.0C168.3 359.2 140.0 370.8 130.0 375.0C123.3 370.8 102.5 362.5 90.0 350.0C77.5 337.5 65.0 316.7 55.0 300.0C45.0 283.3 34.5 264.2 30.0 250.0C25.5 235.8 28.3 220.8 28.0 215.0Z" fill="none" stroke-width="9"/>
</g>
<!-- part 23 -->
<g transform="translate(495 550) scale(0.25)" class="o" stroke-width="4">
<path d="M150.0 388.0C158.3 384.2 185.8 369.3 200.0 365.0C214.2 360.7 221.7 361.2 235.0 362.0C248.3 362.8 272.5 368.7 280.0 370.0L320.0 405.0L330.0 440.0L300.0 462.0L230.0 487.0L170.0 470.0C166.7 463.3 153.3 443.7 150.0 430.0C146.7 416.3 150.0 395.0 150.0 388.0Z" fill="#7d9ab3" stroke-width="6"/>
<path d="M160 392 L205 372 L275 378 L300 405 L215 440 L165 425 Z" fill="#a3bacc" stroke-width="3"/>
<path d="M215 440 L300 405 L322 440 L300 460 L232 482 Z" fill="#5f7c95" stroke-width="3"/>
<circle cx="185" cy="440" r="9" fill="#dfe8ef" stroke-width="3"/>
<circle cx="222" cy="468" r="7" fill="#dfe8ef" stroke-width="3"/>
<circle cx="218" cy="432" r="5" fill="#2b3d4d" stroke="none"/>
<circle cx="270" cy="400" r="5" fill="#2b3d4d" stroke="none"/>
<path d="M200 368 L205 378 M235 364 L238 376 M260 368 L262 380" class="n" stroke-width="3"/>
</g>
<!-- screw 24 -->
<g transform="translate(495 550) scale(0.25)" class="o" stroke-width="4">
<path d="M118 520 L160 498 Q175 500 172 515 L135 545 Z" fill="#c9d8e4" stroke-width="4.5"/>
<path d="M130 516 L142 538 M142 510 L152 530 M153 504 L162 522" class="n" stroke-width="3.5"/>
<ellipse cx="100" cy="545" rx="30" ry="32" fill="#9fb7c9" stroke-width="5"/>
<ellipse cx="96" cy="545" rx="19" ry="21" fill="#c9d8e4" stroke-width="3.5"/>
<ellipse cx="95" cy="545" rx="8" ry="9" fill="#5f7c95" stroke-width="2.5"/>
<path d="M78 560 Q95 580 118 570" class="n" stroke-width="3"/>
</g>
<!-- 36_part8.svg -->
<g transform="translate(555 640) scale(0.25)" class="o" stroke-width="4">
<path d="M40.0 335.0C43.3 331.7 48.3 321.7 60.0 315.0C71.7 308.3 91.7 299.2 110.0 295.0C128.3 290.8 160.0 290.8 170.0 290.0C180.0 281.7 203.3 260.0 230.0 240.0C256.7 220.0 296.7 190.8 330.0 170.0C363.3 149.2 401.7 128.3 430.0 115.0C458.3 101.7 480.8 97.2 500.0 90.0C519.2 82.8 537.5 75.0 545.0 72.0C549.2 74.2 564.2 78.7 570.0 85.0C575.8 91.3 578.3 105.8 580.0 110.0C585.0 115.0 601.7 131.7 610.0 140.0C618.3 148.3 626.7 156.7 630.0 160.0L625.0 200.0L590.0 220.0L575.0 215.0C574.2 221.7 579.2 242.5 570.0 255.0C560.8 267.5 548.3 273.3 520.0 290.0C491.7 306.7 438.3 336.7 400.0 355.0C361.7 373.3 308.3 392.5 290.0 400.0C287.5 406.7 280.8 427.5 275.0 440.0C269.2 452.5 258.3 469.2 255.0 475.0C250.8 475.8 252.5 488.3 230.0 480.0C207.5 471.7 149.2 440.8 120.0 425.0C90.8 409.2 65.8 391.7 55.0 385.0L40.0 335.0Z" fill="url(#gT)" stroke-width="7"/>
<!-- side face -->
<path d="M240.0 360.0C246.7 353.3 263.3 332.0 280.0 320.0C296.7 308.0 311.7 302.7 340.0 288.0C368.3 273.3 416.7 248.3 450.0 232.0C483.3 215.7 525.0 197.0 540.0 190.0L575.0 215.0C574.2 221.7 579.2 242.5 570.0 255.0C560.8 267.5 548.3 273.3 520.0 290.0C491.7 306.7 438.3 336.7 400.0 355.0C361.7 373.3 308.3 392.5 290.0 400.0C286.7 397.5 278.3 391.7 270.0 385.0C261.7 378.3 245.0 364.2 240.0 360.0Z" fill="url(#gM)" stroke-width="3.5"/>
<path d="M265.0 372.0C275.8 365.0 299.2 347.3 330.0 330.0C360.8 312.7 411.7 285.5 450.0 268.0C488.3 250.5 541.7 232.2 560.0 225.0" class="n" stroke-width="3"/>
<path d="M300.0 395.0C316.7 387.5 363.3 368.3 400.0 350.0C436.7 331.7 492.0 301.3 520.0 285.0C548.0 268.7 560.0 257.5 568.0 252.0C568.3 254.2 578.0 257.8 570.0 265.0C562.0 272.2 548.3 279.2 520.0 295.0C491.7 310.8 438.0 342.2 400.0 360.0C362.0 377.8 308.7 396.2 292.0 402.0C275.3 407.8 298.7 396.2 300.0 395.0Z" fill="#6f8da6" stroke="none"/>
<!-- right end box -->
<path d="M500 90 L545 72 L570 85 L580 110 L560 125 L540 100 Z" fill="#dbe6ee" stroke-width="3.5"/>
<path d="M560 125 L580 110 L610 140 L630 160 L625 200 L590 220 L585 175 Z" fill="#b1c5d5" stroke-width="3.5"/>
<path d="M585 175 L630 160 M540 190 L560 125" class="n" stroke-width="3"/>
<ellipse cx="550" cy="225" rx="8" ry="12" fill="#3d566c" stroke-width="2.5"/>
<!-- slot on top -->
<path d="M310.0 235.0C312.5 231.5 303.3 239.2 330.0 225.0C356.7 210.8 444.2 162.5 470.0 150.0C495.8 137.5 483.3 148.3 485.0 150.0C486.7 151.7 504.2 145.3 480.0 160.0C455.8 174.7 367.5 223.7 340.0 238.0C312.5 252.3 320.0 246.5 315.0 246.0C310.0 245.5 307.5 238.5 310.0 235.0Z" fill="#e2ebf1" stroke-width="3"/>
<path d="M320.0 240.0C333.3 232.5 373.7 209.2 400.0 195.0C426.3 180.8 465.0 161.7 478.0 155.0" class="n" stroke-width="2.5"/>
<path d="M210.0 290.0C218.3 291.7 243.3 300.0 260.0 300.0C276.7 300.0 298.3 296.3 310.0 290.0C321.7 283.7 326.7 266.7 330.0 262.0" class="n" stroke-width="3"/>
<!-- mouth flange -->
<path d="M40.0 335.0C43.3 331.7 48.3 321.7 60.0 315.0C71.7 308.3 91.7 299.2 110.0 295.0C128.3 290.8 160.0 290.8 170.0 290.0L285.0 385.0C283.3 394.2 280.0 425.0 275.0 440.0C270.0 455.0 258.3 469.2 255.0 475.0C250.8 475.8 252.5 488.3 230.0 480.0C207.5 471.7 149.2 440.8 120.0 425.0C90.8 409.2 65.8 391.7 55.0 385.0L40.0 335.0Z" fill="#b1c5d5" stroke-width="4"/>
<path d="M72.0 338.0C80.0 333.7 105.3 317.0 120.0 312.0C134.7 307.0 153.3 308.7 160.0 308.0L262.0 388.0C260.0 395.0 255.0 419.3 250.0 430.0C245.0 440.7 235.0 448.3 232.0 452.0C215.0 443.3 155.7 414.5 130.0 400.0C104.3 385.5 86.7 370.8 78.0 365.0L72.0 338.0Z" fill="#7b98b0" stroke-width="3.5"/>
<path d="M160.0 308.0L262.0 388.0L250.0 430.0C233.3 416.7 165.0 370.3 150.0 350.0C135.0 329.7 158.3 315.0 160.0 308.0Z" fill="#a3bacc" stroke-width="3"/>
<ellipse cx="120" cy="335" rx="28" ry="18" fill="#c9d8e4" stroke-width="3"/>
<ellipse cx="235" cy="418" rx="14" ry="20" fill="#9fb7c9" stroke-width="3"/>
<path d="M85 395 L82 410 L98 415 M195 460 L195 475 L212 478" class="n" stroke-width="3.5"/>
<path d="M40.0 335.0C43.3 331.7 48.3 321.7 60.0 315.0C71.7 308.3 91.7 299.2 110.0 295.0C128.3 290.8 160.0 290.8 170.0 290.0C180.0 281.7 203.3 260.0 230.0 240.0C256.7 220.0 296.7 190.8 330.0 170.0C363.3 149.2 401.7 128.3 430.0 115.0C458.3 101.7 480.8 97.2 500.0 90.0C519.2 82.8 537.5 75.0 545.0 72.0C549.2 74.2 564.2 78.7 570.0 85.0C575.8 91.3 578.3 105.8 580.0 110.0C585.0 115.0 601.7 131.7 610.0 140.0C618.3 148.3 626.7 156.7 630.0 160.0L625.0 200.0L590.0 220.0L575.0 215.0C574.2 221.7 579.2 242.5 570.0 255.0C560.8 267.5 548.3 273.3 520.0 290.0C491.7 306.7 438.3 336.7 400.0 355.0C361.7 373.3 308.3 392.5 290.0 400.0C287.5 406.7 280.8 427.5 275.0 440.0C269.2 452.5 258.3 469.2 255.0 475.0C250.8 475.8 252.5 488.3 230.0 480.0C207.5 471.7 149.2 440.8 120.0 425.0C90.8 409.2 65.8 391.7 55.0 385.0L40.0 335.0Z" fill="none" stroke-width="7"/>
</g>
<!-- 37_part10.svg -->
<g transform="translate(700 550) scale(0.25)" class="o" stroke-width="4">
<path d="M30.0 385.0C35.0 381.7 40.0 378.3 60.0 365.0C80.0 351.7 121.7 322.5 150.0 305.0C178.3 287.5 205.0 270.8 230.0 260.0C255.0 249.2 276.7 244.2 300.0 240.0C323.3 235.8 350.0 240.8 370.0 235.0C390.0 229.2 407.5 217.5 420.0 205.0C432.5 192.5 440.0 175.8 445.0 160.0C450.0 144.2 449.2 118.3 450.0 110.0L470.0 75.0C475.0 77.5 491.7 84.2 500.0 90.0C508.3 95.8 516.7 106.7 520.0 110.0L560.0 125.0C563.3 128.3 575.8 132.5 580.0 145.0C584.2 157.5 584.2 190.8 585.0 200.0C583.3 210.0 579.2 243.3 575.0 260.0C570.8 276.7 563.3 285.0 560.0 300.0C556.7 315.0 561.7 335.8 555.0 350.0C548.3 364.2 535.8 375.8 520.0 385.0C504.2 394.2 483.3 400.8 460.0 405.0C436.7 409.2 406.7 407.5 380.0 410.0C353.3 412.5 313.3 418.3 300.0 420.0C297.5 423.3 286.7 431.7 285.0 440.0C283.3 448.3 289.2 465.0 290.0 470.0L255.0 495.0C251.7 494.2 241.7 493.3 235.0 490.0C228.3 486.7 218.3 477.5 215.0 475.0C210.0 476.7 195.0 480.0 185.0 485.0C175.0 490.0 160.0 501.7 155.0 505.0C145.8 500.8 119.2 490.8 100.0 480.0C80.8 469.2 50.0 446.7 40.0 440.0L30.0 385.0Z" fill="url(#gT)" stroke-width="7"/>
<!-- right dark band -->
<path d="M585.0 200.0C583.3 210.0 579.2 243.3 575.0 260.0C570.8 276.7 563.3 285.0 560.0 300.0C556.7 315.0 561.7 335.8 555.0 350.0C548.3 364.2 535.8 375.8 520.0 385.0C504.2 394.2 483.3 400.8 460.0 405.0C436.7 409.2 406.7 407.5 380.0 410.0C353.3 412.5 313.3 418.3 300.0 420.0L285.0 440.0C279.2 438.3 261.7 430.0 250.0 430.0C238.3 430.0 220.8 438.3 215.0 440.0C227.5 432.5 259.2 404.2 290.0 395.0C320.8 385.8 368.3 387.8 400.0 385.0C431.7 382.2 460.3 384.7 480.0 378.0C499.7 371.3 510.0 358.0 518.0 345.0C526.0 332.0 523.5 315.8 528.0 300.0C532.5 284.2 539.7 267.5 545.0 250.0C550.3 232.5 557.5 204.2 560.0 195.0L585.0 200.0Z" fill="#7593ac" stroke-width="3.5"/>
<!-- top end -->
<path d="M450 110 L470 75 L500 90 L520 110 L560 125 L580 145 L560 195 L470 140 Z" fill="#b5c8d7" stroke-width="3.5"/>
<path d="M470 140 L560 195 M500 90 L498 130 M520 110 L522 130" class="n" stroke-width="3"/>
<path d="M560 195 L580 145 L585 200 Z" fill="#8aa6bc" stroke-width="3"/>
<!-- under tab -->
<path d="M215 440 L250 430 L285 440 L290 470 L255 495 L235 490 L215 475 Z" fill="#8aa6bc" stroke-width="3.5"/>
<path d="M240 470 L262 462 L270 478" class="n" stroke-width="3"/>
<!-- mouth -->
<path d="M30.0 385.0L60.0 365.0L190.0 455.0L185.0 485.0L155.0 505.0C145.8 500.8 119.2 490.8 100.0 480.0C80.8 469.2 50.0 446.7 40.0 440.0L30.0 385.0Z" fill="#b1c5d5" stroke-width="4"/>
<path d="M48 398 L70 388 L165 452 L150 482 L58 430 Z" fill="#7b98b0" stroke-width="3.5"/>
<path d="M70 388 L165 452 L150 482 L100 425 Z" fill="#a3bacc" stroke-width="3"/>
<!-- features -->
<path d="M248.0 345.0C250.0 342.0 240.8 343.0 262.0 338.0C283.2 333.0 354.0 318.0 375.0 315.0C396.0 312.0 387.5 317.5 388.0 320.0C388.5 322.5 399.0 323.7 378.0 330.0C357.0 336.3 283.3 353.7 262.0 358.0C240.7 362.3 252.3 358.2 250.0 356.0C247.7 353.8 246.0 348.0 248.0 345.0Z" fill="#e2ebf1" stroke-width="3"/>
<path d="M260 348 L380 322" class="n" stroke-width="2.5" stroke-dasharray="6 4"/>
<circle cx="318" cy="292" r="10" fill="#a9bfd0" stroke-width="3"/>
<circle cx="400" cy="365" r="10" fill="#a9bfd0" stroke-width="3"/>
<circle cx="495" cy="200" r="10" fill="#a9bfd0" stroke-width="3"/>
<circle cx="455" cy="272" r="9" fill="#5f7c95" stroke-width="3"/>
<circle cx="178" cy="392" r="9" fill="#a9bfd0" stroke-width="3"/>
<path d="M175 438 L178 420 L192 420 L193 430 L180 432 M188 432 L195 442" class="n" stroke-width="3"/>
<path d="M30.0 385.0C35.0 381.7 40.0 378.3 60.0 365.0C80.0 351.7 121.7 322.5 150.0 305.0C178.3 287.5 205.0 270.8 230.0 260.0C255.0 249.2 276.7 244.2 300.0 240.0C323.3 235.8 350.0 240.8 370.0 235.0C390.0 229.2 407.5 217.5 420.0 205.0C432.5 192.5 440.0 175.8 445.0 160.0C450.0 144.2 449.2 118.3 450.0 110.0L470.0 75.0C475.0 77.5 491.7 84.2 500.0 90.0C508.3 95.8 516.7 106.7 520.0 110.0L560.0 125.0C563.3 128.3 575.8 132.5 580.0 145.0C584.2 157.5 584.2 190.8 585.0 200.0C583.3 210.0 579.2 243.3 575.0 260.0C570.8 276.7 563.3 285.0 560.0 300.0C556.7 315.0 561.7 335.8 555.0 350.0C548.3 364.2 535.8 375.8 520.0 385.0C504.2 394.2 483.3 400.8 460.0 405.0C436.7 409.2 406.7 407.5 380.0 410.0C353.3 412.5 313.3 418.3 300.0 420.0C297.5 423.3 286.7 431.7 285.0 440.0C283.3 448.3 289.2 465.0 290.0 470.0L255.0 495.0C251.7 494.2 241.7 493.3 235.0 490.0C228.3 486.7 218.3 477.5 215.0 475.0C210.0 476.7 195.0 480.0 185.0 485.0C175.0 490.0 160.0 501.7 155.0 505.0C145.8 500.8 119.2 490.8 100.0 480.0C80.8 469.2 50.0 446.7 40.0 440.0L30.0 385.0Z" fill="none" stroke-width="7"/>
</g>
<!-- 38_part16.svg -->
<g transform="translate(744 285) scale(0.25)" class="o" stroke-width="4">
<path d="M225.0 95.0C230.8 89.2 247.5 65.0 260.0 60.0C272.5 55.0 285.8 59.2 300.0 65.0C314.2 70.8 328.3 87.5 345.0 95.0C361.7 102.5 390.8 107.5 400.0 110.0C402.5 113.3 412.5 115.0 415.0 130.0C417.5 145.0 414.2 182.5 415.0 200.0C415.8 217.5 419.2 229.2 420.0 235.0L435.0 255.0L425.0 265.0L395.0 250.0L372.0 262.0C374.2 273.3 381.2 303.7 385.0 330.0C388.8 356.3 395.0 388.3 395.0 420.0C395.0 451.7 387.5 490.0 385.0 520.0C382.5 550.0 380.8 586.7 380.0 600.0C384.2 603.3 400.0 612.5 405.0 620.0C410.0 627.5 409.2 640.8 410.0 645.0L395.0 655.0L375.0 650.0C375.8 665.0 378.3 710.0 380.0 740.0C381.7 770.0 383.3 800.0 385.0 830.0C386.7 860.0 386.7 890.0 390.0 920.0C393.3 950.0 400.8 980.0 405.0 1010.0C409.2 1040.0 413.3 1085.0 415.0 1100.0L345.0 1085.0L260.0 1020.0C259.2 1010.0 256.7 973.3 255.0 960.0C253.3 946.7 250.8 943.3 250.0 940.0C244.2 937.5 222.5 930.0 215.0 925.0C207.5 920.0 206.7 912.5 205.0 910.0C208.3 908.3 217.5 900.8 225.0 900.0C232.5 899.2 245.8 904.2 250.0 905.0C249.2 887.5 247.5 842.5 245.0 800.0C242.5 757.5 236.7 696.7 235.0 650.0C233.3 603.3 232.5 565.0 235.0 520.0C237.5 475.0 245.0 425.0 250.0 380.0C255.0 335.0 265.0 281.7 265.0 250.0C265.0 218.3 256.7 208.3 250.0 190.0C243.3 171.7 229.2 148.3 225.0 140.0L225.0 95.0Z" fill="#9ab3c7" stroke-width="7"/>
<!-- main face gradient -->
<path d="M225.0 95.0C230.8 89.2 247.5 65.0 260.0 60.0C272.5 55.0 285.8 59.2 300.0 65.0C314.2 70.8 337.5 90.0 345.0 95.0C342.5 104.2 332.5 130.8 330.0 150.0C327.5 169.2 330.0 200.0 330.0 210.0C332.0 230.0 338.7 295.0 342.0 330.0C345.3 365.0 350.0 381.7 350.0 420.0C350.0 458.3 345.3 516.7 342.0 560.0C338.7 603.3 332.0 640.0 330.0 680.0C328.0 720.0 328.3 763.3 330.0 800.0C331.7 836.7 336.7 866.7 340.0 900.0C343.3 933.3 349.2 969.2 350.0 1000.0C350.8 1030.8 345.8 1070.8 345.0 1085.0L260.0 1020.0C259.2 1010.0 256.7 979.2 255.0 960.0C253.3 940.8 250.8 914.2 250.0 905.0C249.2 887.5 247.5 842.5 245.0 800.0C242.5 757.5 236.7 696.7 235.0 650.0C233.3 603.3 232.5 565.0 235.0 520.0C237.5 475.0 245.0 425.0 250.0 380.0C255.0 335.0 265.0 281.7 265.0 250.0C265.0 218.3 256.7 208.3 250.0 190.0C243.3 171.7 229.2 148.3 225.0 140.0L225.0 95.0Z" fill="url(#gM)" stroke-width="3.5"/>
<!-- right band -->
<path d="M330.0 210.0L372.0 262.0C374.2 273.3 381.2 303.7 385.0 330.0C388.8 356.3 395.0 388.3 395.0 420.0C395.0 451.7 387.5 490.0 385.0 520.0C382.5 550.0 381.7 578.3 380.0 600.0C378.3 621.7 375.0 626.7 375.0 650.0C375.0 673.3 378.3 710.0 380.0 740.0C381.7 770.0 383.3 800.0 385.0 830.0C386.7 860.0 386.7 890.0 390.0 920.0C393.3 950.0 400.8 980.0 405.0 1010.0C409.2 1040.0 413.3 1085.0 415.0 1100.0L345.0 1085.0C345.8 1070.8 350.8 1030.8 350.0 1000.0C349.2 969.2 343.3 933.3 340.0 900.0C336.7 866.7 331.7 836.7 330.0 800.0C328.3 763.3 328.0 720.0 330.0 680.0C332.0 640.0 338.7 603.3 342.0 560.0C345.3 516.7 350.0 458.3 350.0 420.0C350.0 381.7 345.3 365.0 342.0 330.0C338.7 295.0 332.0 230.0 330.0 210.0Z" fill="#8ca8be" stroke-width="3.5"/>
<path d="M345.0 240.0C348.8 256.7 363.0 310.0 368.0 340.0C373.0 370.0 375.5 386.7 375.0 420.0C374.5 453.3 368.3 496.7 365.0 540.0C361.7 583.3 356.2 636.7 355.0 680.0C353.8 723.3 355.8 760.0 358.0 800.0C360.2 840.0 363.5 885.0 368.0 920.0C372.5 955.0 380.5 980.8 385.0 1010.0C389.5 1039.2 393.3 1080.8 395.0 1095.0" class="n" stroke-width="3"/>
<path d="M372.0 262.0C374.2 273.3 381.2 303.7 385.0 330.0C388.8 356.3 395.0 388.3 395.0 420.0C395.0 451.7 387.5 490.0 385.0 520.0C382.5 550.0 381.7 578.3 380.0 600.0C378.3 621.7 375.0 626.7 375.0 650.0C375.0 673.3 378.3 710.0 380.0 740.0C381.7 770.0 383.3 800.0 385.0 830.0C386.7 860.0 386.7 890.0 390.0 920.0C393.3 950.0 400.8 980.0 405.0 1010.0C409.2 1040.0 413.3 1085.0 415.0 1100.0L395.0 1095.0C393.3 1080.8 389.5 1039.2 385.0 1010.0C380.5 980.8 372.5 955.0 368.0 920.0C363.5 885.0 360.2 840.0 358.0 800.0C355.8 760.0 353.8 723.3 355.0 680.0C356.2 636.7 361.7 583.3 365.0 540.0C368.3 496.7 374.5 453.3 375.0 420.0C375.5 386.7 372.2 368.3 368.0 340.0C363.8 311.7 349.3 263.0 350.0 250.0C350.7 237.0 368.3 260.0 372.0 262.0Z" fill="#a9bfd0" stroke-width="3"/>
<!-- tab right -->
<path d="M380 600 L405 620 L410 645 L395 655 L375 650 Z" fill="#b9ccda" stroke-width="3.5"/>
<!-- tab left -->
<path d="M250 905 L225 900 L205 910 L215 925 L250 940 Z" fill="#b9ccda" stroke-width="3.5"/>
<path d="M232 935 L240 960" class="n" stroke-width="3"/>
<!-- top box -->
<path d="M345 95 L400 110 L415 130 L415 200 L420 235 L435 255 L425 265 L395 250 L372 262 L330 210 L330 150 Z" fill="#b9ccda" stroke-width="4"/>
<path d="M360 130 L400 120 L408 210 L395 240 L372 225 Z" fill="#7b98b0" stroke-width="3.5"/>
<path d="M372 140 L398 133 L402 205 L385 215 Z" fill="#c9d8e4" stroke-width="3"/>
<path d="M345 95 L350 200 L372 262 M330 210 L350 200" class="n" stroke-width="3"/>
<!-- slots -->
<path d="M295.0 425.0C299.2 400.0 306.2 414.2 310.0 415.0C313.8 415.8 318.8 404.2 318.0 430.0C317.2 455.8 309.7 545.0 305.0 570.0C300.3 595.0 293.3 580.8 290.0 580.0C286.7 579.2 284.2 590.8 285.0 565.0C285.8 539.2 290.8 450.0 295.0 425.0Z" fill="#b9ccda" stroke-width="3"/>
<path d="M285.0 765.0C285.0 744.7 294.7 756.3 298.0 758.0C301.3 759.7 301.3 754.7 305.0 775.0C308.7 795.3 319.2 860.8 320.0 880.0C320.8 899.2 313.7 890.0 310.0 890.0C306.3 890.0 302.2 900.8 298.0 880.0C293.8 859.2 285.0 785.3 285.0 765.0Z" fill="#b9ccda" stroke-width="3"/>
<path d="M285 135 Q265 140 270 165 Q280 172 285 160 L285 145 L305 150" class="n" stroke-width="3.5"/>
<ellipse cx="297" cy="280" rx="9" ry="12" fill="#b9ccda" stroke-width="3"/>
<path d="M225.0 95.0C230.8 89.2 247.5 65.0 260.0 60.0C272.5 55.0 285.8 59.2 300.0 65.0C314.2 70.8 328.3 87.5 345.0 95.0C361.7 102.5 390.8 107.5 400.0 110.0C402.5 113.3 412.5 115.0 415.0 130.0C417.5 145.0 414.2 182.5 415.0 200.0C415.8 217.5 419.2 229.2 420.0 235.0L435.0 255.0L425.0 265.0L395.0 250.0L372.0 262.0C374.2 273.3 381.2 303.7 385.0 330.0C388.8 356.3 395.0 388.3 395.0 420.0C395.0 451.7 387.5 490.0 385.0 520.0C382.5 550.0 380.8 586.7 380.0 600.0C384.2 603.3 400.0 612.5 405.0 620.0C410.0 627.5 409.2 640.8 410.0 645.0L395.0 655.0L375.0 650.0C375.8 665.0 378.3 710.0 380.0 740.0C381.7 770.0 383.3 800.0 385.0 830.0C386.7 860.0 386.7 890.0 390.0 920.0C393.3 950.0 400.8 980.0 405.0 1010.0C409.2 1040.0 413.3 1085.0 415.0 1100.0L345.0 1085.0L260.0 1020.0C259.2 1010.0 256.7 973.3 255.0 960.0C253.3 946.7 250.8 943.3 250.0 940.0C244.2 937.5 222.5 930.0 215.0 925.0C207.5 920.0 206.7 912.5 205.0 910.0C208.3 908.3 217.5 900.8 225.0 900.0C232.5 899.2 245.8 904.2 250.0 905.0C249.2 887.5 247.5 842.5 245.0 800.0C242.5 757.5 236.7 696.7 235.0 650.0C233.3 603.3 232.5 565.0 235.0 520.0C237.5 475.0 245.0 425.0 250.0 380.0C255.0 335.0 265.0 281.7 265.0 250.0C265.0 218.3 256.7 208.3 250.0 190.0C243.3 171.7 229.2 148.3 225.0 140.0L225.0 95.0Z" fill="none" stroke-width="7"/>
</g>
<!-- part 18 -->
<g transform="translate(855 315) scale(0.08065)" class="o" stroke-width="12">
<path d="M110.0 160.0C125.0 162.5 170.0 175.8 200.0 175.0C230.0 174.2 261.7 157.5 290.0 155.0C318.3 152.5 356.7 159.2 370.0 160.0C375.0 173.3 388.3 196.7 400.0 240.0C411.7 283.3 428.3 356.7 440.0 420.0C451.7 483.3 465.0 560.0 470.0 620.0C475.0 680.0 470.0 753.3 470.0 780.0L440.0 800.0C443.3 805.0 458.3 816.7 460.0 830.0C461.7 843.3 451.7 871.7 450.0 880.0L280.0 890.0C273.3 883.3 247.5 866.7 240.0 850.0C232.5 833.3 235.8 800.0 235.0 790.0C227.5 785.0 202.5 773.3 190.0 760.0C177.5 746.7 166.7 728.3 160.0 710.0C153.3 691.7 151.7 660.0 150.0 650.0L180.0 625.0L150.0 600.0C145.0 570.0 128.3 476.7 120.0 420.0C111.7 363.3 101.7 303.3 100.0 260.0C98.3 216.7 108.3 176.7 110.0 160.0Z" fill="#8aa6bc" stroke-width="20"/>
<path d="M150.0 200.0C166.7 202.5 217.5 215.8 250.0 215.0C282.5 214.2 329.2 198.3 345.0 195.0C349.2 205.8 360.8 222.5 370.0 260.0C379.2 297.5 390.0 360.0 400.0 420.0C410.0 480.0 424.2 561.7 430.0 620.0C435.8 678.3 434.2 745.0 435.0 770.0C419.2 773.3 370.8 790.0 340.0 790.0C309.2 790.0 265.0 773.3 250.0 770.0C246.7 741.7 240.0 658.3 230.0 600.0C220.0 541.7 201.7 473.3 190.0 420.0C178.3 366.7 166.7 316.7 160.0 280.0C153.3 243.3 151.7 213.3 150.0 200.0Z" fill="#a3bacc" stroke-width="9"/>
<path d="M170 215 L320 205 L325 245 L180 260 Z" fill="#b9ccda" stroke-width="8"/>
<path d="M190 290 L260 750 M225 285 L295 765 M262 280 L330 770 M298 275 L365 770 M335 270 L400 765" class="n" stroke-width="9" stroke="#3d566c"/>
<path d="M262 440 L300 480 L292 540 L330 640" class="n" stroke-width="9" stroke="#dfe8ef"/>
<path d="M250 800 L440 800 L450 880 L280 890 L240 850 Z" fill="#c3d3df" stroke-width="9"/>
<path d="M390 800 L395 880" class="n" stroke-width="8"/>
<path d="M110.0 160.0C125.0 162.5 170.0 175.8 200.0 175.0C230.0 174.2 261.7 157.5 290.0 155.0C318.3 152.5 356.7 159.2 370.0 160.0C375.0 173.3 388.3 196.7 400.0 240.0C411.7 283.3 428.3 356.7 440.0 420.0C451.7 483.3 465.0 560.0 470.0 620.0C475.0 680.0 470.0 753.3 470.0 780.0L440.0 800.0C443.3 805.0 458.3 816.7 460.0 830.0C461.7 843.3 451.7 871.7 450.0 880.0L280.0 890.0C273.3 883.3 247.5 866.7 240.0 850.0C232.5 833.3 235.8 800.0 235.0 790.0C227.5 785.0 202.5 773.3 190.0 760.0C177.5 746.7 166.7 728.3 160.0 710.0C153.3 691.7 151.7 660.0 150.0 650.0L180.0 625.0L150.0 600.0C145.0 570.0 128.3 476.7 120.0 420.0C111.7 363.3 101.7 303.3 100.0 260.0C98.3 216.7 108.3 176.7 110.0 160.0Z" fill="none" stroke-width="20"/>
</g>
<!-- screw 19 right -->
<g transform="translate(744 285) scale(0.25)" class="o" stroke-width="4">
<path d="M215 742 L405 640" class="n" stroke-width="5" stroke="#e4ecf2"/><path d="M215 742 L245 726" class="n" stroke-width="3.5" stroke="#8a97a1"/>
<path d="M180 760 L205 745 L215 755 L195 772 Z" fill="#c9d8e4" stroke-width="4"/>
<ellipse cx="178" cy="770" rx="14" ry="20" fill="#9fb7c9" stroke-width="4.5" transform="rotate(-25 178 770)"/>
<ellipse cx="145" cy="790" rx="20" ry="17" fill="#b9ccda" stroke-width="4.5"/>
<ellipse cx="160" cy="782" rx="10" ry="15" fill="#7b98b0" stroke-width="3.5" transform="rotate(-25 160 782)"/>
</g>
<!-- 39_part21.svg -->
<g transform="translate(740 120) scale(0.16129)" class="o" stroke-width="6">
<!-- part 21 -->
</g>
<g transform="translate(745 150) scale(0.12097)" class="o" stroke-width="8">
<!-- tabs -->
<path d="M215.0 345.0C204.2 342.5 167.8 338.3 150.0 330.0C132.2 321.7 108.0 306.3 108.0 295.0C108.0 283.7 133.8 262.5 150.0 262.0C166.2 261.5 190.0 280.7 205.0 292.0C220.0 303.3 234.2 323.7 240.0 330.0L215.0 345.0Z" fill="#7d9ab3" stroke-width="12"/>
<path d="M565 60 L580 8 L640 12 L655 45 Z" fill="#7d9ab3" stroke-width="12"/>
<!-- rear housing -->
<path d="M75.0 560.0C79.2 551.7 82.5 528.3 100.0 510.0C117.5 491.7 160.8 478.3 180.0 450.0C199.2 421.7 209.2 358.3 215.0 340.0C229.2 376.7 279.2 516.7 300.0 560.0C320.8 603.3 333.3 593.3 340.0 600.0C350.0 598.3 358.3 608.3 400.0 590.0C441.7 571.7 558.3 506.7 590.0 490.0C588.3 495.0 611.7 496.7 580.0 520.0C548.3 543.3 463.3 595.0 400.0 630.0C336.7 665.0 233.3 713.3 200.0 730.0C191.7 728.3 166.7 735.0 150.0 720.0C133.3 705.0 112.5 666.7 100.0 640.0C87.5 613.3 79.2 573.3 75.0 560.0Z" fill="#7d9ab3" stroke-width="14"/>
<path d="M125 560 L180 525 L225 600 L170 635 Z" fill="#9fb7c9" stroke-width="6"/>
<path d="M165 625 L215 600 L250 650 L200 680 Z" fill="#5f7c95" stroke-width="6"/>
<path d="M230.0 560.0C235.8 565.0 256.7 578.3 265.0 590.0C273.3 601.7 277.5 623.3 280.0 630.0" class="n" stroke-width="6"/>
<path d="M75.0 560.0C79.2 551.7 82.5 528.3 100.0 510.0C117.5 491.7 160.8 478.3 180.0 450.0C199.2 421.7 209.2 358.3 215.0 340.0C229.2 376.7 279.2 516.7 300.0 560.0C320.8 603.3 333.3 593.3 340.0 600.0C350.0 598.3 358.3 608.3 400.0 590.0C441.7 571.7 558.3 506.7 590.0 490.0C588.3 495.0 611.7 496.7 580.0 520.0C548.3 543.3 463.3 595.0 400.0 630.0C336.7 665.0 233.3 713.3 200.0 730.0C191.7 728.3 166.7 735.0 150.0 720.0C133.3 705.0 112.5 666.7 100.0 640.0C87.5 613.3 79.2 573.3 75.0 560.0Z" fill="none" stroke-width="14"/>
<!-- bezel -->
<path d="M215.0 300.0C294.2 249.2 602.5 80.0 690.0 35.0C777.5 -10.0 708.3 -0.8 740.0 30.0C771.7 60.8 854.2 180.0 880.0 220.0C905.8 260.0 898.3 253.3 895.0 270.0C891.7 286.7 942.5 266.7 860.0 320.0C777.5 373.3 486.7 543.3 400.0 590.0C313.3 636.7 356.7 605.0 340.0 600.0C323.3 595.0 320.8 603.3 300.0 560.0C279.2 516.7 229.2 383.3 215.0 340.0C200.8 296.7 135.8 350.8 215.0 300.0Z" fill="#7391aa" stroke-width="15"/>
<path d="M250.0 320.0C323.3 274.2 611.7 115.8 690.0 75.0C768.3 34.2 693.3 47.5 720.0 75.0C746.7 102.5 828.3 205.8 850.0 240.0C871.7 274.2 928.3 227.5 850.0 280.0C771.7 332.5 465.0 510.0 380.0 555.0C295.0 600.0 361.7 584.2 340.0 550.0C318.3 515.8 265.0 388.3 250.0 350.0C235.0 311.7 176.7 365.8 250.0 320.0Z" fill="#4f6b83" stroke-width="9"/>
<path d="M330.0 480.0L810.0 190.0C816.7 198.3 843.3 225.0 850.0 240.0C856.7 255.0 928.3 227.5 850.0 280.0C771.7 332.5 465.0 510.0 380.0 555.0C295.0 600.0 346.7 550.8 340.0 550.0L330.0 480.0Z" fill="#c3d3df" stroke-width="7"/>
<path d="M262 350 L700 100 M275 375 L725 122 M290 402 L748 150 M305 430 L770 175 M318 455 L790 200" class="n" stroke-width="8" stroke="#22323f"/>
<path d="M460 200 L570 350 M478 190 L588 340" class="n" stroke-width="9" stroke="#1b2a37"/>
<path d="M345.0 395.0C345.8 388.3 372.5 357.8 390.0 345.0C407.5 332.2 441.7 318.0 450.0 318.0C458.3 318.0 450.8 333.8 440.0 345.0C429.2 356.2 400.8 376.7 385.0 385.0C369.2 393.3 344.2 401.7 345.0 395.0Z" fill="#eef3f7" stroke="none"/>
<path d="M585.0 255.0C586.7 248.3 620.8 214.5 640.0 200.0C659.2 185.5 691.7 168.0 700.0 168.0C708.3 168.0 701.7 188.0 690.0 200.0C678.3 212.0 647.5 230.8 630.0 240.0C612.5 249.2 583.3 261.7 585.0 255.0Z" fill="#eef3f7" stroke="none"/>
<path d="M425 470 L500 428 L515 448 L440 492 Z" fill="#5f7c95" stroke-width="5"/>
<path d="M680 330 L752 288 L765 308 L694 350 Z" fill="#5f7c95" stroke-width="5"/>
<path d="M215.0 300.0C294.2 249.2 602.5 80.0 690.0 35.0C777.5 -10.0 708.3 -0.8 740.0 30.0C771.7 60.8 854.2 180.0 880.0 220.0C905.8 260.0 898.3 253.3 895.0 270.0C891.7 286.7 942.5 266.7 860.0 320.0C777.5 373.3 486.7 543.3 400.0 590.0C313.3 636.7 356.7 605.0 340.0 600.0C323.3 595.0 320.8 603.3 300.0 560.0C279.2 516.7 229.2 383.3 215.0 340.0C200.8 296.7 135.8 350.8 215.0 300.0Z" fill="none" stroke-width="15"/>
</g>
<g transform="translate(740 120) scale(0.16129)" class="o" stroke-width="6">
<!-- part 25 -->
<path d="M490.0 642.0C488.3 637.0 476.7 619.0 480.0 612.0C483.3 605.0 499.2 598.7 510.0 600.0C520.8 601.3 538.3 614.0 545.0 620.0C551.7 626.0 549.2 633.3 550.0 636.0L490.0 642.0Z" fill="#7d9ab3" stroke-width="8"/>
<path d="M270.0 830.0C272.5 821.7 273.3 794.2 285.0 780.0C296.7 765.8 309.2 767.5 340.0 745.0C370.8 722.5 448.3 661.7 470.0 645.0C498.3 632.5 598.3 586.2 640.0 570.0C681.7 553.8 701.7 550.5 720.0 548.0C738.3 545.5 741.7 548.0 750.0 555.0C758.3 562.0 766.7 584.2 770.0 590.0L830.0 760.0C829.2 764.2 846.7 765.0 825.0 785.0C803.3 805.0 750.8 846.7 700.0 880.0C649.2 913.3 578.3 954.2 520.0 985.0C461.7 1015.8 378.3 1051.7 350.0 1065.0C346.7 1064.2 335.0 1064.2 330.0 1060.0C325.0 1055.8 325.0 1060.0 320.0 1040.0C315.0 1020.0 308.3 975.0 300.0 940.0C291.7 905.0 275.0 848.3 270.0 830.0Z" fill="#6f8da6" stroke-width="10"/>
<path d="M350 790 L740 562 L822 770 L420 1010 Z" fill="#58748d" stroke-width="6"/>
<path d="M350 790 L470 650 L720 552 L740 562 Z" fill="#9fb7c9" stroke-width="5"/>
<path d="M270 830 L350 790 L420 1010 L350 1065 L320 1040 Z" fill="#8aa6bc" stroke-width="5"/>
<path d="M390 810 L490 750 L500 790 L405 845 Z" fill="#a9bfd0" stroke-width="4"/>
<path d="M640 665 L730 615 L745 650 L655 700 Z" fill="#a9bfd0" stroke-width="4"/>
<path d="M440 860 L470 990 M480 840 L510 965 M680 720 L715 830 M735 690 L770 800" class="n" stroke-width="7" stroke="#2b3d4d" stroke-dasharray="8 8"/>
<path d="M520 740 L530 760 M575 715 L582 735 M620 690 L630 710 M545 815 L560 830 M590 790 L600 805 M640 760 L655 775 M560 880 L580 895 M660 820 L675 835" class="n" stroke-width="9" stroke="#22323f"/>
<path d="M455 880 L462 905 M470 930 L476 955 M495 860 L502 885 M510 910 L516 935 M695 740 L702 765 M710 790 L716 812 M750 710 L757 735 M765 760 L771 782 M545 770 L565 760 M600 740 L620 730 M560 850 L580 840 M620 815 L640 805" class="n" stroke-width="7" stroke="#b9ccda"/>
<path d="M290 850 L310 930 M300 960 L330 1040" class="n" stroke-width="6" stroke="#2b3d4d"/>
<path d="M270.0 830.0C272.5 821.7 273.3 794.2 285.0 780.0C296.7 765.8 309.2 767.5 340.0 745.0C370.8 722.5 448.3 661.7 470.0 645.0C498.3 632.5 598.3 586.2 640.0 570.0C681.7 553.8 701.7 550.5 720.0 548.0C738.3 545.5 741.7 548.0 750.0 555.0C758.3 562.0 766.7 584.2 770.0 590.0L830.0 760.0C829.2 764.2 846.7 765.0 825.0 785.0C803.3 805.0 750.8 846.7 700.0 880.0C649.2 913.3 578.3 954.2 520.0 985.0C461.7 1015.8 378.3 1051.7 350.0 1065.0C346.7 1064.2 335.0 1064.2 330.0 1060.0C325.0 1055.8 325.0 1060.0 320.0 1040.0C315.0 1020.0 308.3 975.0 300.0 940.0C291.7 905.0 275.0 848.3 270.0 830.0Z" fill="none" stroke-width="10"/>
<!-- screw 22 -->
<path d="M170 165 L290 100 Q325 100 322 135 L205 215 Z" fill="#c9d8e4" stroke-width="7"/>
<path d="M190 160 L220 205 M212 148 L242 190 M235 135 L262 176 M258 122 L283 162 M280 110 L303 148" class="n" stroke-width="7"/>
<path d="M95.0 175.0C99.2 158.3 121.7 130.8 135.0 125.0C148.3 119.2 161.7 125.0 175.0 140.0C188.3 155.0 210.8 196.7 215.0 215.0C219.2 233.3 210.8 242.8 200.0 250.0C189.2 257.2 165.0 262.2 150.0 258.0C135.0 253.8 119.2 238.8 110.0 225.0C100.8 211.2 90.8 191.7 95.0 175.0Z" fill="#7d9ab3" stroke-width="8"/>
<ellipse cx="125" cy="195" rx="30" ry="42" fill="#b9ccda" stroke-width="6" transform="rotate(-20 125 195)"/>
<path d="M325 110 L435 245 M500 195 L580 150" class="n" stroke-width="4" stroke="#7d8a94"/>
</g>
<!-- 40_part15.svg -->
<g class="o" stroke-width="1">
<path d="M121.0 695.0C122.1 692.7 123.9 684.8 127.5 681.0C131.1 677.2 137.9 673.4 142.5 672.0C147.1 670.6 150.4 671.0 155.0 672.5C159.6 674.0 167.5 679.6 170.0 681.0C171.7 681.2 177.9 681.7 180.0 682.5C182.1 683.3 182.1 685.4 182.5 686.0C181.7 689.2 180.0 698.8 177.5 705.0C175.0 711.2 169.2 720.4 167.5 723.5L162.5 725.5L157.5 721.0C156.9 722.8 154.6 725.5 154.0 732.0C153.4 738.5 153.7 752.0 154.0 760.0C154.3 768.0 156.2 773.3 156.0 780.0C155.8 786.7 154.3 792.9 152.5 800.0C150.7 807.1 146.7 816.7 145.0 822.5C143.3 828.3 142.7 830.4 142.5 835.0C142.3 839.6 143.6 843.3 144.0 850.0C144.4 856.7 144.2 866.7 145.0 875.0C145.8 883.3 147.5 892.1 148.8 900.0C150.0 907.9 150.8 915.7 152.5 922.5C154.2 929.3 158.2 936.8 158.8 941.0C159.3 945.2 156.5 946.4 156.0 947.5C155.0 947.7 154.3 950.7 150.0 948.8C145.7 946.8 135.0 939.1 130.0 936.0C125.0 932.9 121.7 931.0 120.0 930.0C119.3 925.0 117.0 909.2 116.0 900.0C115.0 890.8 114.6 883.3 113.8 875.0C112.9 866.7 111.5 858.8 111.0 850.0C110.5 841.2 110.3 831.7 111.0 822.5C111.7 813.3 113.9 803.8 115.0 795.0C116.1 786.2 116.2 777.9 117.5 770.0C118.8 762.1 121.1 754.2 122.5 747.5C123.9 740.8 126.0 736.2 126.0 730.0C126.0 723.8 123.3 715.8 122.5 710.0C121.7 704.2 121.2 697.5 121.0 695.0Z" fill="#bccddb" stroke-width="1.8"/>
<!-- left tab -->
<path d="M116 904 L102 901.5 L97.5 904 L102.5 911 L117 912.5 Z" fill="#b9ccda" stroke-width="1"/>
<!-- main face -->
<path d="M121.0 695.0C122.1 692.7 123.9 684.8 127.5 681.0C131.1 677.2 137.9 673.4 142.5 672.0C147.1 670.6 150.4 671.0 155.0 672.5C159.6 674.0 167.5 679.6 170.0 681.0C168.0 684.2 161.3 694.2 158.0 700.0C154.7 705.8 151.3 713.3 150.0 716.0C149.2 717.1 146.2 719.3 145.0 722.5C143.8 725.7 142.1 728.8 142.5 735.0C142.9 741.2 146.2 752.5 147.5 760.0C148.8 767.5 150.4 773.3 150.0 780.0C149.6 786.7 146.9 792.9 145.0 800.0C143.1 807.1 140.2 815.8 138.8 822.5C137.2 829.2 137.0 833.8 136.0 840.0C135.0 846.2 132.9 854.2 132.5 860.0C132.1 865.8 132.9 868.3 133.8 875.0C134.6 881.7 135.6 890.8 137.5 900.0C139.4 909.2 142.5 922.3 145.0 930.0C147.5 937.7 151.2 943.3 152.5 946.0C152.1 946.5 153.8 950.4 150.0 948.8C146.2 947.1 135.0 939.1 130.0 936.0C125.0 932.9 121.7 931.0 120.0 930.0C119.3 925.0 117.0 909.2 116.0 900.0C115.0 890.8 114.6 883.3 113.8 875.0C112.9 866.7 111.5 858.8 111.0 850.0C110.5 841.2 110.3 831.7 111.0 822.5C111.7 813.3 113.9 803.8 115.0 795.0C116.1 786.2 116.2 777.9 117.5 770.0C118.8 762.1 121.1 754.2 122.5 747.5C123.9 740.8 126.0 736.2 126.0 730.0C126.0 723.8 123.3 715.8 122.5 710.0C121.7 704.2 121.2 697.5 121.0 695.0Z" fill="url(#gC)" stroke-width="0.9"/>
<!-- right band -->
<path d="M150.0 716.0L157.5 721.0C156.9 722.8 154.6 725.5 154.0 732.0C153.4 738.5 153.7 752.0 154.0 760.0C154.3 768.0 156.2 773.3 156.0 780.0C155.8 786.7 154.3 792.9 152.5 800.0C150.7 807.1 146.7 816.7 145.0 822.5C143.3 828.3 142.7 830.4 142.5 835.0C142.3 839.6 143.6 843.3 144.0 850.0C144.4 856.7 144.2 866.7 145.0 875.0C145.8 883.3 147.5 892.1 148.8 900.0C150.0 907.9 150.8 915.7 152.5 922.5C154.2 929.3 158.2 936.8 158.8 941.0C159.3 945.2 156.5 946.4 156.0 947.5L152.5 946.0C151.2 943.3 147.5 937.7 145.0 930.0C142.5 922.3 139.4 909.2 137.5 900.0C135.6 890.8 134.6 881.7 133.8 875.0C132.9 868.3 132.1 865.8 132.5 860.0C132.9 854.2 135.0 846.2 136.0 840.0C137.0 833.8 137.2 829.2 138.8 822.5C140.2 815.8 143.1 807.1 145.0 800.0C146.9 792.9 149.6 786.7 150.0 780.0C150.4 773.3 148.8 767.5 147.5 760.0C146.2 752.5 142.9 741.2 142.5 735.0C142.1 728.8 143.8 725.7 145.0 722.5C146.2 719.3 149.2 717.1 150.0 716.0Z" fill="#7391aa" stroke-width="0.9"/>
<path d="M149.0 735.0C149.3 739.2 150.3 752.5 151.0 760.0C151.7 767.5 153.3 773.3 153.0 780.0C152.7 786.7 150.8 793.0 149.0 800.0C147.2 807.0 143.6 815.3 142.0 822.0C140.4 828.7 140.2 833.7 139.5 840.0C138.8 846.3 138.0 853.3 138.0 860.0C138.0 866.7 138.5 872.5 139.5 880.0C140.5 887.5 142.2 896.7 144.0 905.0C145.8 913.3 149.0 925.8 150.0 930.0" class="n" stroke-width="0.7"/>
<!-- outlet box -->
<path d="M170 681 L180 682.5 L182.5 686 L177.5 705 L167.5 723.5 L162.5 725.5 L157.5 721 L150 716 L158 700 Z" fill="#b1c5d5" stroke-width="1"/>
<path d="M173 686 L180 688 L174 708 L166 720 L162 717 Z" fill="#6f8da6" stroke-width="0.8"/>
<path d="M170 681 L160 704 L157.5 721 M164 683 L154 708" class="n" stroke-width="0.7"/>
<!-- slot -->
<path d="M129.0 776.0C130.2 769.7 131.2 773.7 132.0 774.0C132.8 774.3 134.3 771.7 134.0 778.0C133.7 784.3 131.2 805.7 130.0 812.0C128.8 818.3 127.8 816.0 127.0 816.0C126.2 816.0 124.7 818.7 125.0 812.0C125.3 805.3 127.8 782.3 129.0 776.0Z" fill="#c9d8e4" stroke-width="0.8"/>
<path d="M122.0 862.0C122.2 857.7 124.2 860.3 125.0 861.0C125.8 861.7 126.4 861.5 127.0 866.0C127.6 870.5 128.7 883.8 128.5 888.0C128.3 892.2 126.8 891.2 126.0 891.0C125.2 890.8 124.2 891.8 123.5 887.0C122.8 882.2 121.8 866.3 122.0 862.0Z" fill="#c9d8e4" stroke-width="0.8"/>
<path d="M136 698 Q130 700 132 707 M134 694 Q144 690 149 696" class="n" stroke-width="1"/>
<circle cx="152" cy="738" r="2" fill="#c9d8e4" stroke-width="0.7"/>
<circle cx="138" cy="838" r="2.2" fill="#c9d8e4" stroke-width="0.7"/>
<path d="M121.0 695.0C122.1 692.7 123.9 684.8 127.5 681.0C131.1 677.2 137.9 673.4 142.5 672.0C147.1 670.6 150.4 671.0 155.0 672.5C159.6 674.0 167.5 679.6 170.0 681.0C171.7 681.2 177.9 681.7 180.0 682.5C182.1 683.3 182.1 685.4 182.5 686.0C181.7 689.2 180.0 698.8 177.5 705.0C175.0 711.2 169.2 720.4 167.5 723.5L162.5 725.5L157.5 721.0C156.9 722.8 154.6 725.5 154.0 732.0C153.4 738.5 153.7 752.0 154.0 760.0C154.3 768.0 156.2 773.3 156.0 780.0C155.8 786.7 154.3 792.9 152.5 800.0C150.7 807.1 146.7 816.7 145.0 822.5C143.3 828.3 142.7 830.4 142.5 835.0C142.3 839.6 143.6 843.3 144.0 850.0C144.4 856.7 144.2 866.7 145.0 875.0C145.8 883.3 147.5 892.1 148.8 900.0C150.0 907.9 150.8 915.7 152.5 922.5C154.2 929.3 158.2 936.8 158.8 941.0C159.3 945.2 156.5 946.4 156.0 947.5C155.0 947.7 154.3 950.7 150.0 948.8C145.7 946.8 135.0 939.1 130.0 936.0C125.0 932.9 121.7 931.0 120.0 930.0C119.3 925.0 117.0 909.2 116.0 900.0C115.0 890.8 114.6 883.3 113.8 875.0C112.9 866.7 111.5 858.8 111.0 850.0C110.5 841.2 110.3 831.7 111.0 822.5C111.7 813.3 113.9 803.8 115.0 795.0C116.1 786.2 116.2 777.9 117.5 770.0C118.8 762.1 121.1 754.2 122.5 747.5C123.9 740.8 126.0 736.2 126.0 730.0C126.0 723.8 123.3 715.8 122.5 710.0C121.7 704.2 121.2 697.5 121.0 695.0Z" fill="none" stroke-width="1.8"/>
</g>
<!-- part 17 -->
<g transform="translate(175 685) scale(0.07057)" class="o" stroke-width="13">
<path d="M270 840 L330 820 L480 980 L475 1040 L420 1075 L375 1060 L250 900 Z" fill="#c9d8e4" stroke-width="18"/>
<path d="M400 1010 L455 990" class="n" stroke-width="10"/>
<path d="M100.0 690.0C103.3 675.0 103.3 651.7 120.0 600.0C136.7 548.3 173.3 450.0 200.0 380.0C226.7 310.0 260.0 222.5 280.0 180.0C300.0 137.5 296.7 135.0 320.0 125.0C343.3 115.0 383.3 115.8 420.0 120.0C456.7 124.2 510.0 136.7 540.0 150.0C570.0 163.3 573.3 185.0 600.0 200.0C626.7 215.0 666.7 233.3 700.0 240.0C733.3 246.7 783.3 240.0 800.0 240.0C801.7 246.7 815.0 245.0 810.0 280.0C805.0 315.0 788.3 376.7 770.0 450.0C751.7 523.3 725.0 641.7 700.0 720.0C675.0 798.3 641.7 878.3 620.0 920.0C598.3 961.7 578.3 961.7 570.0 970.0C553.3 972.5 498.3 991.7 470.0 985.0C441.7 978.3 423.3 955.8 400.0 930.0C376.7 904.2 351.7 845.0 330.0 830.0C308.3 815.0 280.0 838.3 270.0 840.0C258.3 830.0 228.3 805.0 200.0 780.0C171.7 755.0 116.7 705.0 100.0 690.0Z" fill="#8aa6bc" stroke-width="22"/>
<path d="M135.0 680.0C150.8 633.3 199.2 481.7 230.0 400.0C260.8 318.3 288.3 229.2 320.0 190.0C351.7 150.8 386.7 164.2 420.0 165.0C453.3 165.8 503.3 190.0 520.0 195.0C506.7 229.2 471.7 315.8 440.0 400.0C408.3 484.2 355.0 635.0 330.0 700.0C305.0 765.0 296.7 775.0 290.0 790.0L135.0 680.0Z" fill="#a3bacc" stroke-width="10"/>
<path d="M190.0 690.0C205.0 646.7 250.8 506.7 280.0 430.0C309.2 353.3 338.3 265.8 365.0 230.0C391.7 194.2 427.5 217.5 440.0 215.0C430.0 245.8 403.3 329.2 380.0 400.0C356.7 470.8 320.0 583.3 300.0 640.0C280.0 696.7 266.7 723.3 260.0 740.0L190.0 690.0Z" fill="#b5c8d7" stroke-width="8"/>
<path d="M540.0 240.0L780.0 300.0C766.7 366.7 728.3 598.3 700.0 700.0C671.7 801.7 638.3 869.2 610.0 910.0C581.7 950.8 543.3 939.2 530.0 945.0C508.3 929.2 427.5 874.2 400.0 850.0C372.5 825.8 370.8 808.3 365.0 800.0C377.5 750.0 410.8 593.3 440.0 500.0C469.2 406.7 523.3 283.3 540.0 240.0Z" fill="#b9ccda" stroke-width="10"/>
<path d="M560 280 L740 325 L730 365 L550 320 Z" fill="#d3dfe9" stroke-width="8"/>
<path d="M540 370 L420 820 M580 380 L460 860 M620 390 L500 890 M660 400 L540 915 M700 410 L585 910" class="n" stroke-width="10" stroke="#3d566c"/>
<path d="M530 520 L580 560 L560 620" class="n" stroke-width="10" stroke="#eef3f7"/>
<path d="M100.0 690.0C103.3 675.0 103.3 651.7 120.0 600.0C136.7 548.3 173.3 450.0 200.0 380.0C226.7 310.0 260.0 222.5 280.0 180.0C300.0 137.5 296.7 135.0 320.0 125.0C343.3 115.0 383.3 115.8 420.0 120.0C456.7 124.2 510.0 136.7 540.0 150.0C570.0 163.3 573.3 185.0 600.0 200.0C626.7 215.0 666.7 233.3 700.0 240.0C733.3 246.7 783.3 240.0 800.0 240.0C801.7 246.7 815.0 245.0 810.0 280.0C805.0 315.0 788.3 376.7 770.0 450.0C751.7 523.3 725.0 641.7 700.0 720.0C675.0 798.3 641.7 878.3 620.0 920.0C598.3 961.7 578.3 961.7 570.0 970.0C553.3 972.5 498.3 991.7 470.0 985.0C441.7 978.3 423.3 955.8 400.0 930.0C376.7 904.2 351.7 845.0 330.0 830.0C308.3 815.0 280.0 838.3 270.0 840.0C258.3 830.0 228.3 805.0 200.0 780.0C171.7 755.0 116.7 705.0 100.0 690.0Z" fill="none" stroke-width="22"/>
</g>
<!-- screw 19 left -->
<g transform="translate(70 660) scale(0.25)" class="o" stroke-width="4">
<path d="M285 710 L395 650" class="n" stroke-width="3.5" stroke="#7d8a94"/>
<ellipse cx="468" cy="600" rx="18" ry="20" fill="#5f7c95" stroke-width="5"/>
<ellipse cx="466" cy="600" rx="8" ry="9" fill="#c9d8e4" stroke-width="3"/>
<path d="M398 628 L420 615 L432 635 L408 648 Z" fill="#9fb7c9" stroke-width="4"/>
<ellipse cx="432" cy="620" rx="14" ry="20" fill="#5f7c95" stroke-width="5" transform="rotate(-25 432 620)"/>
<ellipse cx="445" cy="630" rx="9" ry="13" fill="#9fb7c9" stroke-width="3.5"/>
</g>
<!-- 41_part9.svg -->
<g transform="translate(70 850) scale(0.25)" class="o" stroke-width="4">
<!-- under tab -->
<path d="M560 550 L600 585 L625 570 L640 545 L625 525 L600 520 Z" fill="#9fb7c9" stroke-width="4"/>
<path d="M585 560 L610 548 L625 560 M600 585 L610 548" class="n" stroke-width="3"/>
<path d="M240.0 485.0L262.0 475.0L330.0 500.0L500.0 385.0L530.0 375.0C535.0 379.2 541.7 384.2 560.0 400.0C578.3 415.8 624.2 455.0 640.0 470.0C655.8 485.0 652.5 486.7 655.0 490.0C654.2 493.3 655.0 504.2 650.0 510.0C645.0 515.8 629.2 522.5 625.0 525.0L560.0 550.0C555.0 551.7 540.0 551.7 530.0 560.0C520.0 568.3 508.3 583.3 500.0 600.0C491.7 616.7 490.0 640.0 480.0 660.0C470.0 680.0 446.7 710.0 440.0 720.0L415.0 740.0C410.8 737.5 409.2 735.8 390.0 725.0C370.8 714.2 325.0 690.0 300.0 675.0C275.0 660.0 250.0 641.7 240.0 635.0C239.2 632.5 231.7 632.5 235.0 620.0C238.3 607.5 259.2 582.5 260.0 560.0C260.8 537.5 243.3 497.5 240.0 485.0Z" fill="url(#gT)" stroke-width="7"/>
<!-- left mouth -->
<path d="M240.0 485.0L262.0 475.0L330.0 500.0C334.2 503.3 346.7 511.7 355.0 520.0C363.3 528.3 375.8 545.0 380.0 550.0C383.3 561.7 391.7 595.0 400.0 620.0C408.3 645.0 425.0 686.7 430.0 700.0L415.0 740.0C410.8 737.5 409.2 735.8 390.0 725.0C370.8 714.2 325.0 690.0 300.0 675.0C275.0 660.0 250.0 641.7 240.0 635.0C239.2 632.5 231.7 632.5 235.0 620.0C238.3 607.5 259.2 582.5 260.0 560.0C260.8 537.5 243.3 497.5 240.0 485.0Z" fill="#9fb7c9" stroke-width="4"/>
<path d="M262 475 L330 500 L380 550 L365 600 L270 555 Z" fill="#b9ccda" stroke-width="3.5"/>
<path d="M270 555 L365 600 L400 680 L300 630 L245 615 Z" fill="url(#gC)" stroke-width="3.5"/>
<path d="M275 570 L370 615" class="n" stroke-width="3"/>
<ellipse cx="305" cy="522" rx="10" ry="14" fill="#5f7c95" stroke-width="3"/>
<!-- right dark edge -->
<path d="M380.0 550.0C383.3 561.7 391.7 595.0 400.0 620.0C408.3 645.0 425.0 686.7 430.0 700.0L440.0 720.0C446.7 710.0 470.0 680.0 480.0 660.0C490.0 640.0 491.7 616.7 500.0 600.0C508.3 583.3 520.0 568.3 530.0 560.0C540.0 551.7 555.0 551.7 560.0 550.0L625.0 525.0L650.0 510.0C643.3 509.2 625.0 502.5 610.0 505.0C595.0 507.5 575.0 518.3 560.0 525.0C545.0 531.7 531.7 534.2 520.0 545.0C508.3 555.8 499.2 572.5 490.0 590.0C480.8 607.5 473.3 633.3 465.0 650.0C456.7 666.7 447.5 691.7 440.0 690.0C432.5 688.3 426.7 660.0 420.0 640.0C413.3 620.0 406.7 585.0 400.0 570.0C393.3 555.0 383.3 553.3 380.0 550.0Z" fill="#6f8da6" stroke-width="3.5"/>
<!-- right end -->
<path d="M500 385 L530 375 L560 400 L640 470 L655 490 L650 510 L610 505 Z" fill="#b1c5d5" stroke-width="3.5"/>
<path d="M530 375 L640 475 M515 380 L625 490" class="n" stroke-width="3"/>
<!-- features -->
<path d="M405.0 560.0C410.3 551.7 431.7 531.3 440.0 525.0C448.3 518.7 452.0 520.3 455.0 522.0C458.0 523.7 463.8 526.2 458.0 535.0C452.2 543.8 428.3 568.3 420.0 575.0C411.7 581.7 410.5 577.5 408.0 575.0C405.5 572.5 399.7 568.3 405.0 560.0Z" fill="#dfe8ef" stroke-width="3"/>
<circle cx="520" cy="478" r="10" fill="#c9d8e4" stroke-width="3"/>
<circle cx="438" cy="638" r="10" fill="#c9d8e4" stroke-width="3"/>
<path d="M568 480 L572 495 L582 492" class="n" stroke-width="3"/>
<path d="M290 395 L310 520" class="n" stroke-width="3" stroke="#7d8a94"/>
<path d="M240.0 485.0L262.0 475.0L330.0 500.0L500.0 385.0L530.0 375.0C535.0 379.2 541.7 384.2 560.0 400.0C578.3 415.8 624.2 455.0 640.0 470.0C655.8 485.0 652.5 486.7 655.0 490.0C654.2 493.3 655.0 504.2 650.0 510.0C645.0 515.8 629.2 522.5 625.0 525.0L560.0 550.0C555.0 551.7 540.0 551.7 530.0 560.0C520.0 568.3 508.3 583.3 500.0 600.0C491.7 616.7 490.0 640.0 480.0 660.0C470.0 680.0 446.7 710.0 440.0 720.0L415.0 740.0C410.8 737.5 409.2 735.8 390.0 725.0C370.8 714.2 325.0 690.0 300.0 675.0C275.0 660.0 250.0 641.7 240.0 635.0C239.2 632.5 231.7 632.5 235.0 620.0C238.3 607.5 259.2 582.5 260.0 560.0C260.8 537.5 243.3 497.5 240.0 485.0Z" fill="none" stroke-width="7"/>
</g>
<!-- 42_part7.svg -->
<g transform="translate(210 820) scale(0.25)" class="o" stroke-width="4">
<path d="M55.0 445.0C58.3 441.7 62.5 431.7 75.0 425.0C87.5 418.3 120.8 408.3 130.0 405.0C146.7 395.0 196.7 363.3 230.0 345.0C263.3 326.7 298.3 310.0 330.0 295.0C361.7 280.0 391.7 270.0 420.0 255.0C448.3 240.0 473.3 221.7 500.0 205.0C526.7 188.3 560.8 166.7 580.0 155.0C599.2 143.3 609.2 138.3 615.0 135.0C614.2 130.0 608.3 113.3 610.0 105.0C611.7 96.7 613.3 92.5 625.0 85.0C636.7 77.5 667.5 64.2 680.0 60.0C692.5 55.8 696.7 60.0 700.0 60.0C713.3 66.7 753.3 85.8 780.0 100.0C806.7 114.2 841.7 133.3 860.0 145.0C878.3 156.7 885.0 165.8 890.0 170.0C889.2 175.0 888.3 191.7 885.0 200.0C881.7 208.3 885.8 210.8 870.0 220.0C854.2 229.2 803.3 249.2 790.0 255.0C785.0 255.8 776.7 259.5 760.0 260.0C743.3 260.5 710.0 255.5 690.0 258.0C670.0 260.5 656.7 268.0 640.0 275.0C623.3 282.0 603.3 292.5 590.0 300.0C576.7 307.5 565.0 316.7 560.0 320.0L575.0 350.0C570.8 351.7 562.5 354.2 550.0 360.0C537.5 365.8 508.3 380.8 500.0 385.0C496.7 384.2 491.7 377.5 480.0 380.0C468.3 382.5 455.0 386.7 430.0 400.0C405.0 413.3 356.7 443.3 330.0 460.0C303.3 476.7 280.0 493.3 270.0 500.0L270.0 520.0L215.0 550.0C209.2 549.2 197.5 551.7 180.0 545.0C162.5 538.3 129.2 520.8 110.0 510.0C90.8 499.2 72.5 485.0 65.0 480.0L55.0 445.0Z" fill="url(#gT)" stroke-width="7"/>
<!-- side face -->
<path d="M265.0 495.0C275.8 486.7 300.8 463.3 330.0 445.0C359.2 426.7 421.7 395.0 440.0 385.0C446.7 380.0 460.0 369.2 480.0 355.0C500.0 340.8 536.7 316.7 560.0 300.0C583.3 283.3 598.3 265.0 620.0 255.0C641.7 245.0 666.7 242.5 690.0 240.0C713.3 237.5 743.3 237.5 760.0 240.0C776.7 242.5 785.0 252.5 790.0 255.0C785.0 255.8 776.7 259.5 760.0 260.0C743.3 260.5 710.0 255.5 690.0 258.0C670.0 260.5 656.7 268.0 640.0 275.0C623.3 282.0 603.3 292.5 590.0 300.0C576.7 307.5 565.0 316.7 560.0 320.0L575.0 350.0C570.8 351.7 562.5 354.2 550.0 360.0C537.5 365.8 508.3 380.8 500.0 385.0C496.7 384.2 491.7 377.5 480.0 380.0C468.3 382.5 455.0 386.7 430.0 400.0C405.0 413.3 356.7 443.3 330.0 460.0C303.3 476.7 280.0 493.3 270.0 500.0L265.0 495.0Z" fill="#7f9cb5" stroke-width="3.5"/>
<path d="M270.0 500.0C280.0 493.3 303.3 476.7 330.0 460.0C356.7 443.3 405.0 413.3 430.0 400.0C455.0 386.7 471.7 383.3 480.0 380.0C478.3 377.5 476.7 364.2 470.0 365.0C463.3 365.8 463.3 371.7 440.0 385.0C416.7 398.3 359.2 426.7 330.0 445.0C300.8 463.3 275.0 485.8 265.0 495.0C255.0 504.2 269.2 499.2 270.0 500.0Z" fill="#a3bacc" stroke-width="3"/>
<!-- clips -->
<path d="M485 370 L490 385 L510 388 L515 365 Z M555 315 L560 340 L580 345 L575 320 Z" fill="#b9ccda" stroke-width="3"/>
<!-- top flare -->
<path d="M615.0 135.0C614.2 130.0 608.3 113.3 610.0 105.0C611.7 96.7 613.3 92.5 625.0 85.0C636.7 77.5 667.5 64.2 680.0 60.0C692.5 55.8 696.7 60.0 700.0 60.0C713.3 66.7 753.3 85.8 780.0 100.0C806.7 114.2 841.7 133.3 860.0 145.0C878.3 156.7 885.0 165.8 890.0 170.0C889.2 175.0 888.3 191.7 885.0 200.0C881.7 208.3 885.8 210.8 870.0 220.0C854.2 229.2 803.3 249.2 790.0 255.0C787.5 251.2 781.7 240.3 775.0 232.0C768.3 223.7 754.2 209.5 750.0 205.0C741.7 200.0 715.0 184.2 700.0 175.0C685.0 165.8 674.2 156.7 660.0 150.0C645.8 143.3 622.5 137.5 615.0 135.0Z" fill="#b5c8d7" stroke-width="4"/>
<path d="M632.0 105.0L685.0 78.0C700.8 85.0 749.5 104.3 780.0 120.0C810.5 135.7 853.3 163.3 868.0 172.0L860.0 196.0L790.0 212.0L745.0 192.0C737.5 186.7 715.8 170.3 700.0 160.0C684.2 149.7 661.3 139.2 650.0 130.0C638.7 120.8 635.0 109.2 632.0 105.0Z" fill="#dbe6ee" stroke-width="3.5"/>
<path d="M660 100 L745 192 M790 212 L795 240 M868 172 L885 200" class="n" stroke-width="3"/>
<path d="M615.0 135.0C603.3 130.8 657.5 168.3 680.0 180.0C702.5 191.7 760.8 212.5 750.0 205.0C739.2 197.5 626.7 139.2 615.0 135.0Z" class="n" stroke-width="3"/>
<!-- top face details -->
<path d="M205.0 430.0C219.2 420.8 259.2 393.0 290.0 375.0C320.8 357.0 370.0 329.5 390.0 322.0C410.0 314.5 400.8 321.2 410.0 330.0C419.2 338.8 439.2 367.5 445.0 375.0L440.0 385.0C430.0 390.8 405.0 405.8 380.0 420.0C355.0 434.2 311.7 458.7 290.0 470.0C268.3 481.3 256.7 485.0 250.0 488.0L205.0 430.0Z" fill="#d7e3ec" stroke-width="3"/>
<path d="M290 440 L415 378 M450 360 L560 280" class="n" stroke-width="3"/>
<!-- left mouth -->
<path d="M55.0 445.0C58.3 441.7 62.5 431.7 75.0 425.0C87.5 418.3 120.8 408.3 130.0 405.0C133.3 408.3 127.5 410.0 150.0 425.0C172.5 440.0 245.8 483.3 265.0 495.0L270.0 520.0L215.0 550.0C209.2 549.2 197.5 551.7 180.0 545.0C162.5 538.3 129.2 520.8 110.0 510.0C90.8 499.2 72.5 485.0 65.0 480.0L55.0 445.0Z" fill="#b1c5d5" stroke-width="4"/>
<path d="M70 452 L125 428 L250 502 L210 532 L80 472 Z" fill="#9fb7c9" stroke-width="3.5"/>
<path d="M125 428 L250 502 L210 532 L140 470 Z" fill="#d3dfe9" stroke-width="3"/>
<path d="M118 450 L125 470 L115 500 M128 452 L135 468" class="n" stroke-width="4"/>
<path d="M55.0 445.0C58.3 441.7 62.5 431.7 75.0 425.0C87.5 418.3 120.8 408.3 130.0 405.0C146.7 395.0 196.7 363.3 230.0 345.0C263.3 326.7 298.3 310.0 330.0 295.0C361.7 280.0 391.7 270.0 420.0 255.0C448.3 240.0 473.3 221.7 500.0 205.0C526.7 188.3 560.8 166.7 580.0 155.0C599.2 143.3 609.2 138.3 615.0 135.0C614.2 130.0 608.3 113.3 610.0 105.0C611.7 96.7 613.3 92.5 625.0 85.0C636.7 77.5 667.5 64.2 680.0 60.0C692.5 55.8 696.7 60.0 700.0 60.0C713.3 66.7 753.3 85.8 780.0 100.0C806.7 114.2 841.7 133.3 860.0 145.0C878.3 156.7 885.0 165.8 890.0 170.0C889.2 175.0 888.3 191.7 885.0 200.0C881.7 208.3 885.8 210.8 870.0 220.0C854.2 229.2 803.3 249.2 790.0 255.0C785.0 255.8 776.7 259.5 760.0 260.0C743.3 260.5 710.0 255.5 690.0 258.0C670.0 260.5 656.7 268.0 640.0 275.0C623.3 282.0 603.3 292.5 590.0 300.0C576.7 307.5 565.0 316.7 560.0 320.0L575.0 350.0C570.8 351.7 562.5 354.2 550.0 360.0C537.5 365.8 508.3 380.8 500.0 385.0C496.7 384.2 491.7 377.5 480.0 380.0C468.3 382.5 455.0 386.7 430.0 400.0C405.0 413.3 356.7 443.3 330.0 460.0C303.3 476.7 280.0 493.3 270.0 500.0L270.0 520.0L215.0 550.0C209.2 549.2 197.5 551.7 180.0 545.0C162.5 538.3 129.2 520.8 110.0 510.0C90.8 499.2 72.5 485.0 65.0 480.0L55.0 445.0Z" fill="none" stroke-width="7"/>
</g>
<!-- 43_part30.svg -->
<g transform="translate(430 1150) scale(0.25)" class="o" stroke-width="4">
<path d="M455 390 L520 355" class="n" stroke="#7d8a94" stroke-width="4"/>
<path d="M125.0 250.0C129.2 245.3 141.7 227.0 150.0 222.0C158.3 217.0 170.8 220.3 175.0 220.0C212.5 229.2 355.0 261.7 400.0 275.0C445.0 288.3 437.5 295.8 445.0 300.0C445.8 305.0 448.3 300.0 450.0 330.0C451.7 360.0 456.7 435.0 455.0 480.0C453.3 525.0 442.5 580.0 440.0 600.0C436.7 605.8 427.5 628.3 420.0 635.0C412.5 641.7 399.2 639.2 395.0 640.0C355.8 630.0 204.2 594.2 160.0 580.0C115.8 565.8 135.0 559.2 130.0 555.0L125.0 250.0Z" fill="#7f9cb5" stroke-width="8"/>
<path d="M420 310 L445 300 L455 480 L440 600 L420 612 Z" fill="#5f7c95" stroke-width="3.5"/>
<path d="M125.0 250.0C129.2 245.8 141.7 228.7 150.0 225.0C158.3 221.3 170.8 227.5 175.0 228.0C212.5 237.0 359.2 268.3 400.0 282.0C440.8 295.7 416.7 305.3 420.0 310.0L420.0 610.0L395.0 635.0C355.8 625.5 204.2 591.8 160.0 578.0C115.8 564.2 135.0 556.3 130.0 552.0L125.0 250.0Z" fill="#a3bacc" stroke-width="4"/>
<path d="M158 262 L395 315 L400 602 L165 556 Z" fill="#6f8da6" stroke-width="4"/>
<!-- flaps left -->
<path d="M175 270 L278 292 L280 345 L175 322 Z M172 335 L280 360 L282 418 L172 392 Z M172 408 L282 432 L284 495 L172 470 Z M172 485 L284 510 L286 572 L175 548 Z" fill="#9fb7c9" stroke-width="3"/>
<!-- flaps right -->
<path d="M300 298 L392 318 L393 372 L300 352 Z M300 365 L393 386 L394 445 L300 425 Z M300 438 L394 460 L396 522 L300 500 Z M300 512 L396 535 L397 595 L300 575 Z" fill="#9fb7c9" stroke-width="3"/>
<path d="M280 288 L300 293 L300 590 L285 586 Z" fill="#4f6b83" stroke-width="3"/>
<path d="M160 262 L175 270 L172 548 L165 556 M175 322 L165 330 M172 392 L163 400 M172 470 L163 478" class="n" stroke-width="3"/>
<path d="M125.0 250.0C129.2 245.3 141.7 227.0 150.0 222.0C158.3 217.0 170.8 220.3 175.0 220.0C212.5 229.2 355.0 261.7 400.0 275.0C445.0 288.3 437.5 295.8 445.0 300.0C445.8 305.0 448.3 300.0 450.0 330.0C451.7 360.0 456.7 435.0 455.0 480.0C453.3 525.0 442.5 580.0 440.0 600.0C436.7 605.8 427.5 628.3 420.0 635.0C412.5 641.7 399.2 639.2 395.0 640.0C355.8 630.0 204.2 594.2 160.0 580.0C115.8 565.8 135.0 559.2 130.0 555.0L125.0 250.0Z" fill="none" stroke-width="8"/>
</g>
<!-- 45_dashlines.svg -->
<g class="dd">
<path d="M250 325 L295 300 L345 327"/>
<path d="M203 355 L145 387 L192 412"/>
<path d="M287 447 L265 458 L303 482" stroke-dasharray="14 3 3 3"/>
<path d="M468 528 L535 499.6 L535 624 L546 620"/>
<path d="M468.9 609 L468.9 769.6 L405 796.5 L397 869"/>
<path d="M496 609 L496 746 L587 695 L596 739"/>
<path d="M571.5 647 L587 639.4 L587 612.6 L602 607" stroke-dasharray="14 3 3 3"/>
<path d="M590.7 541.7 L600.3 536 L623.3 547.5 L640.5 538" stroke-dasharray="14 3 3 3"/>
<path d="M757.5 232.5 L736.3 242.5 L736.3 566.6 L694 589.6"/>
<path d="M390 654 L370 664 L382.5 674 L370 681" stroke-dasharray="12 3 3 3"/>
</g>
<g fill="none" stroke="#8a97a1" stroke-width="1.2">
<path d="M520 450 L540 456 M700 670 L713 663 M537 677.7 L548.6 670 M830 560 L830 576 M225 955 L247 943 M142 948 L147 980"/>
</g>
<!-- 50_bolts.svg -->
<!-- 28 clip -->
<g class="o" stroke-width="1">
<path d="M313.3 361 L313.3 426" class="n" stroke="#aeb9c2" stroke-width="1.4"/>
<path d="M310.5 352 L316.5 352 L316.5 359 L315 361 L312 361 L310.5 359 Z" fill="#9fb7c9" stroke-width="1.1"/>
<ellipse cx="314" cy="349" rx="7" ry="3.6" fill="#b9ccda" stroke-width="1.3"/>
<path d="M311.5 341 L316.5 341 L316.8 347 L311.2 347 Z" fill="#9fb7c9" stroke-width="1"/>
<ellipse cx="314" cy="339.2" rx="5.6" ry="3.4" fill="#c9d8e4" stroke-width="1.3"/>
</g>
<!-- 27 bolt -->
<g transform="translate(100 395) scale(0.25)" class="o" stroke-width="4">
<path d="M700 405 L795 345 L803 357 L712 428 Z" fill="#6f8da6" stroke-width="4.5"/>
<path d="M720 400 L730 412 M735 390 L745 402 M750 381 L760 393 M765 371 L775 383 M780 361 L790 373" class="n" stroke-width="3" stroke="#22323f"/>
<ellipse cx="706" cy="428" rx="11" ry="24" fill="#8aa6bc" stroke-width="4.5" transform="rotate(-25 706 428)"/>
<path d="M622 385 L640 370 L700 395 L715 445 L690 455 L640 430 L620 405 Z" fill="#5f7c95" stroke-width="5"/>
<path d="M640 370 L700 395 L690 412 L632 388 Z" fill="#8aa6bc" stroke-width="3"/>
<path d="M690 412 L715 445 L690 455 L672 425 Z" fill="#9fb7c9" stroke-width="3"/>
<path d="M640 395 L638 425 M655 402 L655 432" class="n" stroke-width="3.5"/>
</g>
<!-- 26 bolt upper -->
<g transform="translate(515 415) scale(0.25)" class="o" stroke-width="4">
<path d="M215 560 L300 505 L308 517 L225 582 Z" fill="#6f8da6" stroke-width="4.5"/>
<path d="M232 552 L242 565 M247 543 L257 555 M262 533 L272 545 M277 523 L287 535" class="n" stroke-width="3" stroke="#22323f"/>
<ellipse cx="218" cy="582" rx="11" ry="24" fill="#8aa6bc" stroke-width="4.5" transform="rotate(-25 218 582)"/>
<path d="M128 550 L150 535 L212 560 L228 600 L198 608 L140 580 L125 565 Z" fill="#5f7c95" stroke-width="5"/>
<path d="M150 535 L212 560 L200 575 L140 550 Z" fill="#8aa6bc" stroke-width="3"/>
<path d="M200 575 L228 600 L198 608 L182 585 Z" fill="#9fb7c9" stroke-width="3"/>
<path d="M148 558 L146 585 M165 565 L165 592" class="n" stroke-width="3.5"/>
</g>
<!-- 26 bolt lower -->
<g transform="translate(195 580) scale(0.25)" class="o" stroke-width="4">
<path d="M785 280 L858 240 L868 255 L792 297 Z" fill="#6f8da6" stroke-width="4.5"/>
<path d="M800 275 L808 288 M815 267 L823 280 M830 258 L838 271 M845 250 L853 263" class="n" stroke-width="3" stroke="#22323f"/>
<ellipse cx="866" cy="240" rx="12" ry="24" fill="#8aa6bc" stroke-width="4.5" transform="rotate(-20 866 240)"/>
<path d="M872 222 L890 214 L928 235 L932 262 L915 278 L878 258 Z" fill="#5f7c95" stroke-width="5"/>
<path d="M890 214 L928 235 L918 248 L880 228 Z" fill="#8aa6bc" stroke-width="3"/>
<path d="M918 248 L932 262 L915 278 L905 260 Z" fill="#9fb7c9" stroke-width="3"/>
</g>
<!-- 90_labels.svg -->
<g id="labels">
<path class="ld" d="M765.0 121.0 L765.0 135.0 M858.0 179.0 L873.8 179.0 M874.5 244.5 L890.0 244.5 M890.0 345.0 L905.0 345.0 M784.0 384.5 L805.0 384.5 M781.5 448.8 L781.5 474.5 M771.8 580.0 L771.8 608.8 M218.2 255.0 L218.2 285.5 M298.0 333.0 L309.5 340.0 M454.5 369.5 L454.5 398.8 M655.5 448.0 L655.5 478.8 M561.8 536.8 L561.8 550.0 M156.5 543.8 L156.5 573.0 M281.2 503.8 L281.2 512.5 M310.8 617.5 L310.8 646.2 M358.2 517.5 L358.2 541.2 M414.5 615.0 L414.5 628.8 M524.5 643.8 L535.0 645.5 M628.8 627.5 L628.8 648.2 M520.8 694.5 L520.8 702.0 M655.5 730.0 L655.5 759.5 M102.0 740.5 L123.2 740.5 M223.0 736.2 L243.8 736.2 M184.5 820.0 L184.5 835.0 M315.5 855.0 L315.5 882.5 M190.5 915.5 L190.5 946.2 M501.8 1186.2 L501.8 1206.2"/>
<circle cx="558.4" cy="522.4" r="13.3" fill="none" stroke="#d4213a" stroke-width="1.5"/>
<circle cx="410.6" cy="601.2" r="13.3" fill="none" stroke="#d4213a" stroke-width="1.5"/>
<text transform="translate(764.6 116.8) scale(1.09 1)">22</text>
<text transform="translate(886.0 186.0) scale(1.09 1)">21</text>
<text transform="translate(903.0 250.5) scale(1.09 1)">25</text>
<text transform="translate(915.0 351.8) scale(1.09 1)">18</text>
<text transform="translate(766.0 392.5) scale(1.09 1)">16</text>
<text transform="translate(778.0 445.0) scale(1.09 1)">19</text>
<text transform="translate(767.8 573.0) scale(1.09 1)">10</text>
<text transform="translate(218.4 249.2) scale(1.09 1)">2</text>
<text transform="translate(286.0 331.2) scale(1.09 1)">28</text>
<text transform="translate(454.0 362.5) scale(1.09 1)">4</text>
<text transform="translate(654.0 441.2) scale(1.09 1)">6</text>
<text transform="translate(559.0 529.2) scale(1.09 1)">26</text>
<text transform="translate(156.2 537.0) scale(1.09 1)">3</text>
<text transform="translate(280.6 533.5) scale(1.09 1)">27</text>
<text transform="translate(310.2 611.2) scale(1.09 1)">5</text>
<text transform="translate(357.6 561.8) scale(1.09 1)">1</text>
<text transform="translate(412.2 608.0) scale(1.09 1)">26</text>
<text transform="translate(513.2 644.0) scale(1.09 1)">23</text>
<text transform="translate(628.4 667.2) scale(1.09 1)">20</text>
<text transform="translate(520.4 720.0) scale(1.09 1)">24</text>
<text transform="translate(655.0 778.8) scale(1.09 1)">8</text>
<text transform="translate(88.0 747.5) scale(1.09 1)">15</text>
<text transform="translate(253.0 743.0) scale(1.09 1)">17</text>
<text transform="translate(179.5 856.2) scale(1.09 1)">19</text>
<text transform="translate(314.6 847.5) scale(1.09 1)">7</text>
<text transform="translate(188.8 909.2) scale(1.09 1)">9</text>
<text transform="translate(501.0 1180.0) scale(1.09 1)">30</text>
</g>
<circle cx="799" cy="1361.8" r="4.1" fill="#f03c32"/><circle cx="799" cy="1374.1" r="4.1" fill="#f8e33c"/><circle cx="799" cy="1386.3" r="4.1" fill="#3cae4a"/>
</svg>
</body></html>
